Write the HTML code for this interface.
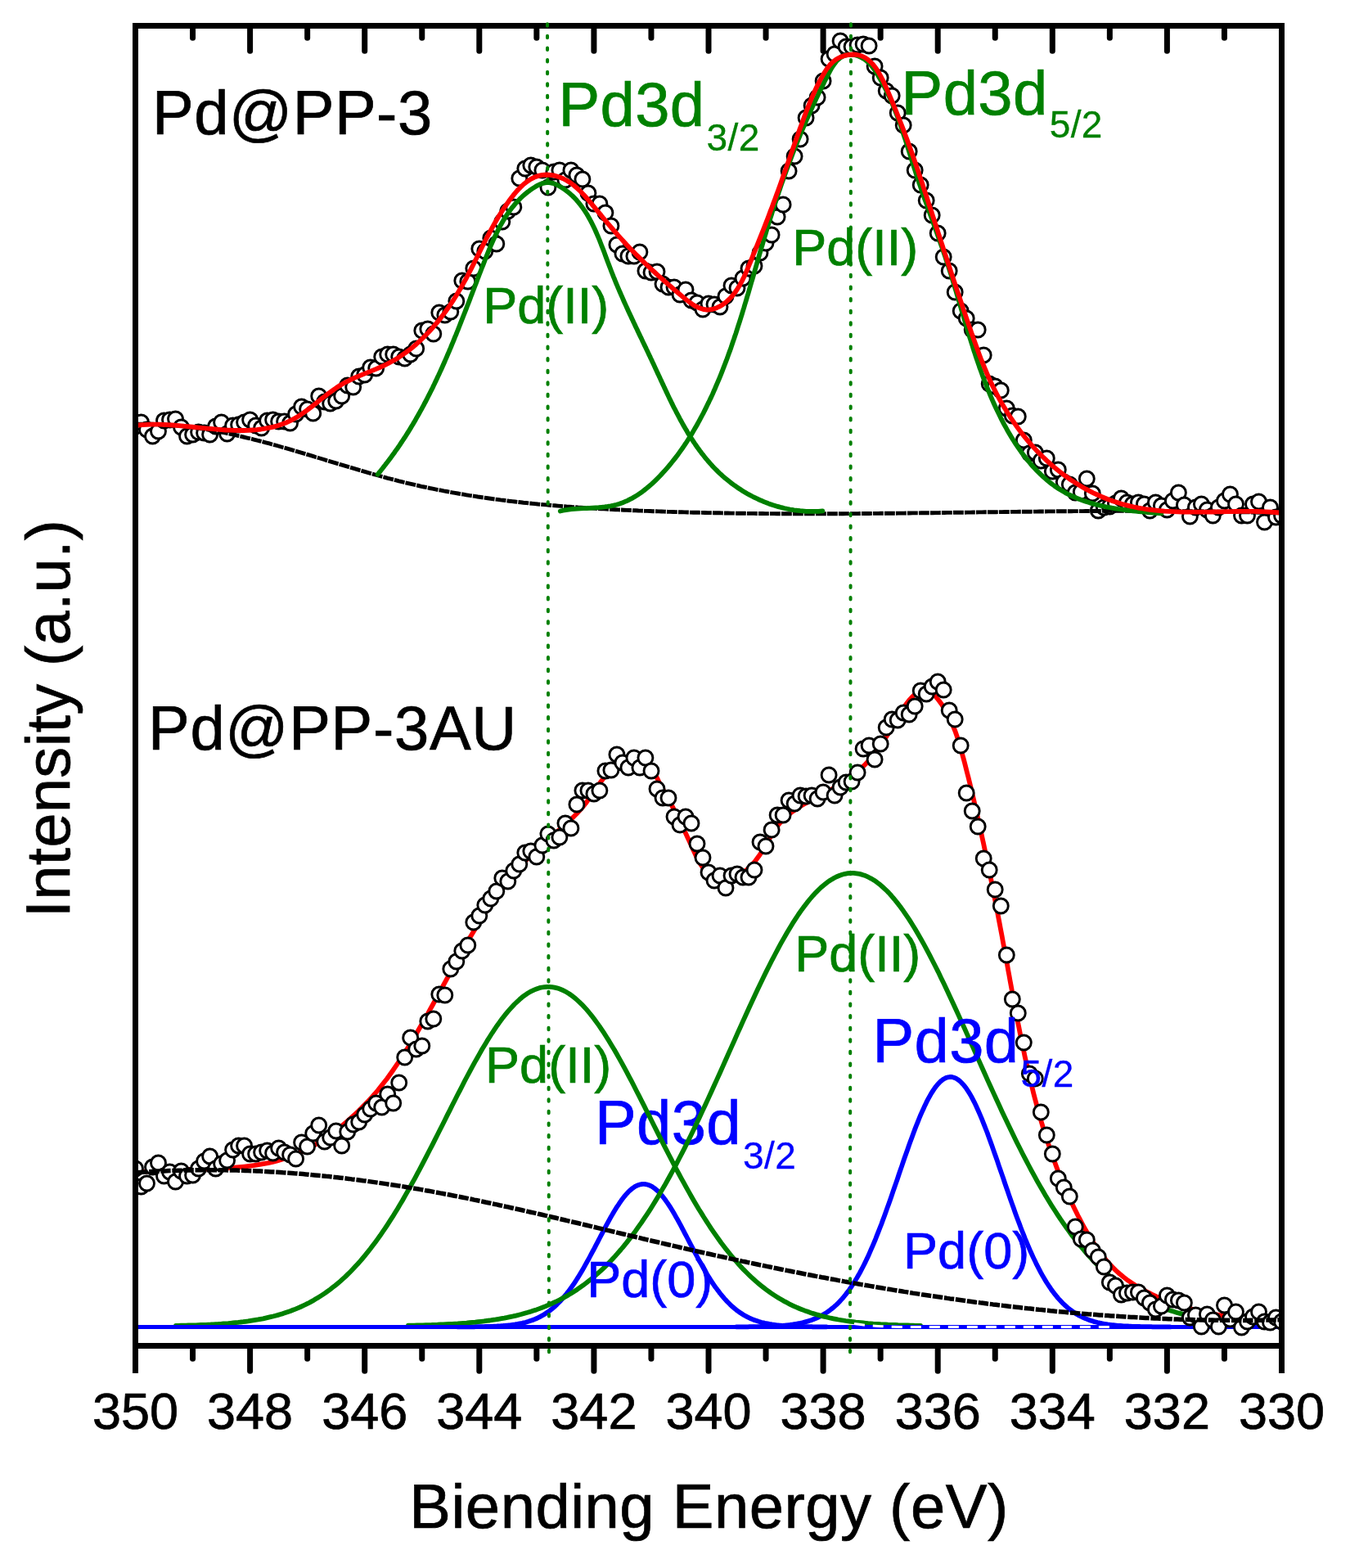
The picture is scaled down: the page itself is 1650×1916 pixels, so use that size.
<!DOCTYPE html>
<html><head><meta charset="utf-8"><style>html,body{margin:0;padding:0;background:#fff;}svg{display:block;}</style></head>
<body><svg xmlns="http://www.w3.org/2000/svg" width="1650" height="1916" viewBox="0 0 1650 1916"><rect width="1650" height="1916" fill="#fff"/><defs><clipPath id="pa"><rect x="165.5" y="31.5" width="1401" height="1613"/></clipPath></defs><g clip-path="url(#pa)"><text x="186.1" y="163.8" font-family="'Liberation Sans', Arial, sans-serif" font-size="76" fill="#000" letter-spacing="0.5" stroke-width="0.7" stroke="#000">Pd@PP-3</text><text x="682.4" y="154.2" font-family="'Liberation Sans', Arial, sans-serif" font-size="76" fill="#008000" letter-spacing="0.4" stroke-width="0.7" stroke="#008000">Pd3d<tspan font-size="46" dx="2" dy="29.5" stroke-width="0.3">3/2</tspan></text><text x="1101.6" y="139.8" font-family="'Liberation Sans', Arial, sans-serif" font-size="76" fill="#008000" letter-spacing="0.4" stroke-width="0.7" stroke="#008000">Pd3d<tspan font-size="46" dx="2" dy="28.4" stroke-width="0.3">5/2</tspan></text><text x="590.2" y="394.9" font-family="'Liberation Sans', Arial, sans-serif" font-size="63" fill="#008000" stroke-width="0.7" stroke="#008000">Pd(II)</text><text x="968.2" y="323.8" font-family="'Liberation Sans', Arial, sans-serif" font-size="63" fill="#008000" stroke-width="0.7" stroke="#008000">Pd(II)</text><g fill="#fff" stroke="#000" stroke-width="2.9"><circle cx="165.5" cy="521.0" r="9.0"/><circle cx="172.5" cy="516.0" r="9.0"/><circle cx="179.5" cy="525.0" r="9.0"/><circle cx="186.5" cy="533.0" r="9.0"/><circle cx="193.5" cy="527.0" r="9.0"/><circle cx="200.5" cy="514.0" r="9.0"/><circle cx="207.5" cy="513.0" r="9.0"/><circle cx="214.5" cy="512.0" r="9.0"/><circle cx="221.5" cy="522.0" r="9.0"/><circle cx="228.5" cy="533.0" r="9.0"/><circle cx="235.6" cy="531.0" r="9.0"/><circle cx="242.6" cy="528.0" r="9.0"/><circle cx="249.6" cy="529.0" r="9.0"/><circle cx="256.6" cy="531.0" r="9.0"/><circle cx="263.6" cy="521.0" r="9.0"/><circle cx="270.6" cy="516.0" r="9.0"/><circle cx="277.6" cy="530.0" r="9.0"/><circle cx="284.6" cy="520.0" r="9.0"/><circle cx="291.6" cy="519.0" r="9.0"/><circle cx="298.6" cy="516.0" r="9.0"/><circle cx="305.6" cy="513.0" r="9.0"/><circle cx="312.6" cy="520.0" r="9.0"/><circle cx="319.6" cy="523.0" r="9.0"/><circle cx="326.6" cy="514.0" r="9.0"/><circle cx="333.6" cy="513.0" r="9.0"/><circle cx="340.6" cy="515.0" r="9.0"/><circle cx="347.6" cy="515.0" r="9.0"/><circle cx="354.6" cy="517.0" r="9.0"/><circle cx="361.6" cy="506.0" r="9.0"/><circle cx="368.6" cy="497.0" r="9.0"/><circle cx="375.6" cy="500.0" r="9.0"/><circle cx="382.7" cy="505.0" r="9.0"/><circle cx="389.7" cy="484.0" r="9.0"/><circle cx="396.7" cy="491.0" r="9.0"/><circle cx="403.7" cy="493.0" r="9.0"/><circle cx="410.7" cy="490.0" r="9.0"/><circle cx="417.7" cy="484.0" r="9.0"/><circle cx="424.7" cy="471.0" r="9.0"/><circle cx="431.7" cy="473.0" r="9.0"/><circle cx="438.7" cy="460.0" r="9.0"/><circle cx="445.7" cy="458.0" r="9.0"/><circle cx="452.7" cy="449.0" r="9.0"/><circle cx="459.7" cy="450.0" r="9.0"/><circle cx="466.7" cy="436.0" r="9.0"/><circle cx="473.7" cy="433.0" r="9.0"/><circle cx="480.7" cy="433.0" r="9.0"/><circle cx="487.7" cy="436.0" r="9.0"/><circle cx="494.7" cy="438.0" r="9.0"/><circle cx="501.7" cy="433.0" r="9.0"/><circle cx="508.7" cy="426.0" r="9.0"/><circle cx="515.8" cy="404.0" r="9.0"/><circle cx="522.8" cy="402.0" r="9.0"/><circle cx="529.8" cy="408.0" r="9.0"/><circle cx="536.8" cy="382.0" r="9.0"/><circle cx="543.8" cy="385.0" r="9.0"/><circle cx="550.8" cy="381.0" r="9.0"/><circle cx="557.8" cy="368.0" r="9.0"/><circle cx="564.8" cy="343.0" r="9.0"/><circle cx="571.8" cy="344.0" r="9.0"/><circle cx="578.8" cy="328.0" r="9.0"/><circle cx="585.8" cy="304.0" r="9.0"/><circle cx="592.8" cy="307.0" r="9.0"/><circle cx="599.8" cy="291.0" r="9.0"/><circle cx="606.8" cy="298.0" r="9.0"/><circle cx="613.8" cy="271.0" r="9.0"/><circle cx="620.8" cy="258.0" r="9.0"/><circle cx="627.8" cy="253.0" r="9.0"/><circle cx="634.8" cy="218.0" r="9.0"/><circle cx="641.8" cy="206.0" r="9.0"/><circle cx="648.8" cy="202.0" r="9.0"/><circle cx="655.8" cy="204.0" r="9.0"/><circle cx="662.9" cy="208.0" r="9.0"/><circle cx="669.9" cy="229.0" r="9.0"/><circle cx="676.9" cy="210.0" r="9.0"/><circle cx="683.9" cy="208.0" r="9.0"/><circle cx="690.9" cy="220.0" r="9.0"/><circle cx="697.9" cy="208.0" r="9.0"/><circle cx="704.9" cy="214.0" r="9.0"/><circle cx="711.9" cy="219.0" r="9.0"/><circle cx="718.9" cy="236.0" r="9.0"/><circle cx="725.9" cy="249.0" r="9.0"/><circle cx="732.9" cy="249.0" r="9.0"/><circle cx="739.9" cy="260.0" r="9.0"/><circle cx="746.9" cy="276.0" r="9.0"/><circle cx="753.9" cy="299.0" r="9.0"/><circle cx="760.9" cy="310.0" r="9.0"/><circle cx="767.9" cy="313.0" r="9.0"/><circle cx="774.9" cy="313.0" r="9.0"/><circle cx="781.9" cy="308.0" r="9.0"/><circle cx="788.9" cy="331.0" r="9.0"/><circle cx="796.0" cy="333.0" r="9.0"/><circle cx="803.0" cy="332.0" r="9.0"/><circle cx="810.0" cy="347.0" r="9.0"/><circle cx="817.0" cy="351.0" r="9.0"/><circle cx="824.0" cy="351.0" r="9.0"/><circle cx="831.0" cy="360.0" r="9.0"/><circle cx="838.0" cy="354.0" r="9.0"/><circle cx="845.0" cy="367.0" r="9.0"/><circle cx="852.0" cy="370.0" r="9.0"/><circle cx="859.0" cy="378.0" r="9.0"/><circle cx="866.0" cy="371.0" r="9.0"/><circle cx="873.0" cy="372.0" r="9.0"/><circle cx="880.0" cy="375.0" r="9.0"/><circle cx="887.0" cy="362.0" r="9.0"/><circle cx="894.0" cy="349.0" r="9.0"/><circle cx="901.0" cy="352.0" r="9.0"/><circle cx="908.0" cy="340.0" r="9.0"/><circle cx="915.0" cy="328.0" r="9.0"/><circle cx="922.0" cy="325.0" r="9.0"/><circle cx="929.0" cy="309.0" r="9.0"/><circle cx="936.0" cy="297.0" r="9.0"/><circle cx="943.1" cy="287.0" r="9.0"/><circle cx="950.1" cy="265.0" r="9.0"/><circle cx="957.1" cy="250.0" r="9.0"/><circle cx="964.1" cy="209.0" r="9.0"/><circle cx="971.1" cy="191.0" r="9.0"/><circle cx="978.1" cy="170.0" r="9.0"/><circle cx="985.1" cy="144.0" r="9.0"/><circle cx="992.1" cy="129.0" r="9.0"/><circle cx="999.1" cy="119.0" r="9.0"/><circle cx="1006.1" cy="99.0" r="9.0"/><circle cx="1013.1" cy="72.0" r="9.0"/><circle cx="1020.1" cy="66.0" r="9.0"/><circle cx="1027.1" cy="50.0" r="9.0"/><circle cx="1034.1" cy="57.0" r="9.0"/><circle cx="1041.1" cy="57.0" r="9.0"/><circle cx="1048.1" cy="55.0" r="9.0"/><circle cx="1055.1" cy="54.0" r="9.0"/><circle cx="1062.1" cy="56.0" r="9.0"/><circle cx="1069.1" cy="81.0" r="9.0"/><circle cx="1076.2" cy="95.0" r="9.0"/><circle cx="1083.2" cy="111.0" r="9.0"/><circle cx="1090.2" cy="117.0" r="9.0"/><circle cx="1097.2" cy="138.0" r="9.0"/><circle cx="1104.2" cy="153.0" r="9.0"/><circle cx="1111.2" cy="185.0" r="9.0"/><circle cx="1118.2" cy="208.0" r="9.0"/><circle cx="1125.2" cy="226.0" r="9.0"/><circle cx="1132.2" cy="245.0" r="9.0"/><circle cx="1139.2" cy="263.0" r="9.0"/><circle cx="1146.2" cy="285.0" r="9.0"/><circle cx="1153.2" cy="314.0" r="9.0"/><circle cx="1160.2" cy="331.0" r="9.0"/><circle cx="1167.2" cy="357.0" r="9.0"/><circle cx="1174.2" cy="380.0" r="9.0"/><circle cx="1181.2" cy="389.0" r="9.0"/><circle cx="1188.2" cy="403.0" r="9.0"/><circle cx="1195.2" cy="403.0" r="9.0"/><circle cx="1202.2" cy="434.0" r="9.0"/><circle cx="1209.2" cy="469.0" r="9.0"/><circle cx="1216.2" cy="472.0" r="9.0"/><circle cx="1223.3" cy="477.0" r="9.0"/><circle cx="1230.3" cy="499.0" r="9.0"/><circle cx="1237.3" cy="508.0" r="9.0"/><circle cx="1244.3" cy="509.0" r="9.0"/><circle cx="1251.3" cy="538.0" r="9.0"/><circle cx="1258.3" cy="554.0" r="9.0"/><circle cx="1265.3" cy="553.0" r="9.0"/><circle cx="1272.3" cy="563.0" r="9.0"/><circle cx="1279.3" cy="560.0" r="9.0"/><circle cx="1286.3" cy="576.0" r="9.0"/><circle cx="1293.3" cy="574.0" r="9.0"/><circle cx="1300.3" cy="589.0" r="9.0"/><circle cx="1307.3" cy="592.0" r="9.0"/><circle cx="1314.3" cy="602.0" r="9.0"/><circle cx="1321.3" cy="601.0" r="9.0"/><circle cx="1328.3" cy="585.0" r="9.0"/><circle cx="1335.3" cy="603.0" r="9.0"/><circle cx="1342.3" cy="624.0" r="9.0"/><circle cx="1349.3" cy="620.0" r="9.0"/><circle cx="1356.3" cy="619.0" r="9.0"/><circle cx="1363.4" cy="615.0" r="9.0"/><circle cx="1370.4" cy="609.0" r="9.0"/><circle cx="1377.4" cy="614.0" r="9.0"/><circle cx="1384.4" cy="616.0" r="9.0"/><circle cx="1391.4" cy="614.0" r="9.0"/><circle cx="1398.4" cy="616.0" r="9.0"/><circle cx="1405.4" cy="624.0" r="9.0"/><circle cx="1412.4" cy="614.0" r="9.0"/><circle cx="1419.4" cy="618.0" r="9.0"/><circle cx="1426.4" cy="623.0" r="9.0"/><circle cx="1433.4" cy="612.0" r="9.0"/><circle cx="1440.4" cy="602.0" r="9.0"/><circle cx="1447.4" cy="617.0" r="9.0"/><circle cx="1454.4" cy="631.0" r="9.0"/><circle cx="1461.4" cy="620.0" r="9.0"/><circle cx="1468.4" cy="616.0" r="9.0"/><circle cx="1475.4" cy="623.0" r="9.0"/><circle cx="1482.4" cy="630.0" r="9.0"/><circle cx="1489.4" cy="620.0" r="9.0"/><circle cx="1496.5" cy="612.0" r="9.0"/><circle cx="1503.5" cy="604.0" r="9.0"/><circle cx="1510.5" cy="616.0" r="9.0"/><circle cx="1517.5" cy="630.0" r="9.0"/><circle cx="1524.5" cy="630.0" r="9.0"/><circle cx="1531.5" cy="616.0" r="9.0"/><circle cx="1538.5" cy="613.0" r="9.0"/><circle cx="1545.5" cy="638.0" r="9.0"/><circle cx="1552.5" cy="620.0" r="9.0"/><circle cx="1559.5" cy="632.0" r="9.0"/><circle cx="1566.5" cy="630.0" r="9.0"/></g><path d="M168.6 518.3 L172.2 518.2 L175.8 518.2 L179.3 518.2 L182.9 518.2 L186.4 518.3 L190.0 518.4 L193.5 518.5 L197.1 518.7 L200.6 518.9 L204.1 519.1 L207.6 519.4 L211.1 519.6 L214.6 519.9 L218.1 520.3 L221.6 520.6 L225.1 521.0 L228.6 521.4 L232.1 521.8 L235.6 522.3 L239.1 522.8 L242.5 523.3 L246.0 523.8 L249.5 524.3 L252.9 524.9 L256.4 525.5 L259.8 526.1 L263.3 526.7 L266.7 527.3 L270.2 528.0 L273.6 528.7 L277.0 529.4 L280.5 530.1 L283.9 530.8 L287.3 531.6 L290.7 532.4 L294.2 533.2 L297.6 534.0 L301.0 534.8 L304.4 535.6 L307.8 536.4 L311.2 537.3 L314.6 538.2 L318.0 539.0 L321.4 539.9 L324.8 540.8 L328.2 541.7 L331.6 542.7 L335.0 543.6 L338.4 544.5 L341.8 545.5 L345.2 546.5 L348.6 547.4 L352.0 548.4 L355.4 549.4 L358.8 550.4 L362.1 551.4 L365.5 552.4 L368.9 553.4 L372.3 554.4 L375.7 555.4 L379.1 556.4 L382.4 557.4 L385.8 558.5 L389.2 559.5 L392.6 560.5 L396.0 561.5 L399.3 562.6 L402.7 563.6 L406.1 564.6 L409.5 565.6 L412.9 566.7 L416.2 567.7 L419.6 568.7 L423.0 569.7 L426.4 570.7 L429.8 571.7 L433.2 572.7 L436.5 573.7 L439.9 574.7 L443.3 575.7 L446.7 576.7 L450.1 577.7 L453.5 578.6 L456.9 579.6 L460.3 580.5 L463.7 581.5 L467.1 582.4 L470.5 583.3 L473.9 584.3 L477.3 585.2 L480.7 586.0 L484.1 586.9 L487.5 587.8 L490.9 588.6 L494.3 589.5 L497.8 590.3 L501.2 591.1 L504.6 591.9 L508.0 592.7 L511.5 593.5 L514.9 594.3 L518.3 595.0 L521.8 595.7 L525.2 596.5 L528.6 597.2 L532.1 597.9 L535.5 598.6 L539.0 599.2 L542.4 599.9 L545.9 600.5 L549.3 601.2 L552.8 601.8 L556.2 602.4 L559.7 603.0 L563.2 603.6 L566.6 604.2 L570.1 604.8 L573.6 605.4 L577.0 605.9 L580.5 606.4 L584.0 607.0 L587.5 607.5 L590.9 608.0 L594.4 608.5 L597.9 609.0 L601.4 609.5 L604.8 610.0 L608.3 610.4 L611.8 610.9 L615.3 611.3 L618.8 611.7 L622.3 612.2 L625.8 612.6 L629.3 613.0 L632.8 613.4 L636.3 613.8 L639.8 614.2 L643.3 614.5 L646.8 614.9 L650.3 615.3 L653.8 615.6 L657.3 616.0 L660.8 616.3 L664.3 616.6 L667.8 616.9 L671.3 617.2 L674.8 617.6 L678.3 617.8 L681.8 618.1 L685.3 618.4 L688.8 618.7 L692.4 619.0 L695.9 619.2 L699.4 619.5 L702.9 619.7 L706.4 620.0 L709.9 620.2 L713.5 620.5 L717.0 620.7 L720.5 620.9 L724.0 621.1 L727.5 621.3 L731.1 621.6 L734.6 621.8 L738.1 621.9 L741.6 622.1 L745.1 622.3 L748.7 622.5 L752.2 622.7 L755.7 622.9 L759.2 623.0 L762.8 623.2 L766.3 623.4 L769.8 623.5 L773.3 623.7 L776.9 623.8 L780.4 624.0 L783.9 624.1 L787.4 624.3 L791.0 624.4 L794.5 624.5 L798.0 624.7 L801.5 624.8 L805.1 624.9 L808.6 625.0 L812.1 625.1 L815.6 625.3 L819.2 625.4 L822.7 625.5 L826.2 625.6 L829.7 625.7 L833.3 625.8 L836.8 625.9 L840.3 626.0 L843.8 626.1 L847.4 626.2 L850.9 626.2 L854.4 626.3 L857.9 626.4 L861.5 626.5 L865.0 626.6 L868.5 626.6 L872.1 626.7 L875.6 626.8 L879.1 626.8 L882.6 626.9 L886.2 627.0 L889.7 627.0 L893.2 627.1 L896.7 627.1 L900.3 627.2 L903.8 627.2 L907.3 627.3 L910.8 627.3 L914.4 627.4 L917.9 627.4 L921.4 627.4 L924.9 627.5 L928.5 627.5 L932.0 627.5 L935.5 627.6 L939.1 627.6 L942.6 627.6 L946.1 627.6 L949.6 627.7 L953.2 627.7 L956.7 627.7 L960.2 627.7 L963.7 627.7 L967.3 627.7 L970.8 627.7 L974.3 627.8 L977.8 627.8 L981.4 627.8 L984.9 627.8 L988.4 627.8 L992.0 627.8 L995.5 627.8 L999.0 627.8 L1002.5 627.8 L1006.1 627.7 L1009.6 627.7 L1013.1 627.7 L1016.6 627.7 L1020.2 627.7 L1023.7 627.7 L1027.2 627.7 L1030.7 627.7 L1034.3 627.6 L1037.8 627.6 L1041.3 627.6 L1044.9 627.6 L1048.4 627.6 L1051.9 627.5 L1055.4 627.5 L1059.0 627.5 L1062.5 627.5 L1066.0 627.4 L1069.5 627.4 L1073.1 627.4 L1076.6 627.3 L1080.1 627.3 L1083.6 627.3 L1087.2 627.2 L1090.7 627.2 L1094.2 627.2 L1097.8 627.1 L1101.3 627.1 L1104.8 627.1 L1108.3 627.0 L1111.9 627.0 L1115.4 626.9 L1118.9 626.9 L1122.4 626.9 L1126.0 626.8 L1129.5 626.8 L1133.0 626.7 L1136.5 626.7 L1140.1 626.7 L1143.6 626.6 L1147.1 626.6 L1150.7 626.5 L1154.2 626.5 L1157.7 626.4 L1161.2 626.4 L1164.8 626.3 L1168.3 626.3 L1171.8 626.3 L1175.3 626.2 L1178.9 626.2 L1182.4 626.1 L1185.9 626.1 L1189.4 626.0 L1193.0 626.0 L1196.5 625.9 L1200.0 625.9 L1203.6 625.8 L1207.1 625.8 L1210.6 625.8 L1214.1 625.7 L1217.7 625.7 L1221.2 625.6 L1224.7 625.6 L1228.2 625.5 L1231.8 625.5 L1235.3 625.4 L1238.8 625.4 L1242.3 625.4 L1245.9 625.3 L1249.4 625.3 L1252.9 625.2 L1256.4 625.2 L1260.0 625.2 L1263.5 625.1 L1267.0 625.1 L1270.5 625.0 L1274.1 625.0 L1277.6 625.0 L1281.1 624.9 L1284.6 624.9 L1288.2 624.9 L1291.7 624.8 L1295.2 624.8 L1298.7 624.8 L1302.3 624.7 L1305.8 624.7 L1309.3 624.7 L1312.8 624.6 L1316.4 624.6 L1319.9 624.6 L1323.4 624.6 L1326.9 624.5 L1330.5 624.5 L1334.0 624.5 L1337.5 624.5 L1341.0 624.5 L1344.6 624.4 L1348.1 624.4 L1351.6 624.4 L1355.1 624.4 L1358.7 624.4 L1362.2 624.4 L1365.7 624.4 L1369.2 624.3 L1372.8 624.3 L1376.3 624.3 L1379.8 624.3 L1383.3 624.3 L1386.9 624.3 L1390.4 624.3 L1393.9 624.3 L1397.4 624.3 L1401.0 624.3 L1404.5 624.3 L1408.0 624.4 L1411.5 624.4 L1415.1 624.4 L1418.6 624.4 L1422.1 624.4 L1425.6 624.4 L1429.1 624.5 L1432.7 624.5 L1436.2 624.5 L1439.7 624.5 L1443.2 624.6 L1446.8 624.6 L1450.3 624.6 L1453.8 624.7 L1457.3 624.7 L1460.8 624.7 L1464.4 624.8 L1467.9 624.8 L1471.4 624.9 L1474.9 624.9 L1478.5 625.0 L1482.0 625.0 L1485.5 625.1 L1489.0 625.1 L1492.5 625.2 L1496.1 625.2 L1499.6 625.3 L1503.1 625.4 L1506.6 625.4 L1510.2 625.5 L1513.7 625.6 L1517.2 625.7 L1520.7 625.8 L1524.2 625.8 L1527.8 625.9 L1531.3 626.0 L1534.8 626.1 L1538.3 626.2 L1541.8 626.3 L1545.4 626.4 L1548.9 626.5 L1552.4 626.6 L1555.9 626.7 L1559.4 626.8 L1563.0 626.9" fill="none" stroke="#000" stroke-width="4.9" stroke-linejoin="round"  stroke-dasharray="12.9 1.1" stroke-linecap="butt"/><path d="M461.6 579.7 L463.2 577.7 L464.8 575.8 L466.4 573.8 L468.0 571.8 L469.5 569.8 L471.1 567.8 L472.6 565.8 L474.2 563.8 L475.7 561.8 L477.2 559.8 L478.6 557.8 L480.1 555.8 L481.6 553.8 L483.0 551.7 L484.4 549.7 L485.9 547.7 L487.3 545.6 L488.7 543.6 L490.0 541.5 L491.4 539.5 L492.8 537.4 L494.1 535.4 L495.5 533.3 L496.8 531.2 L498.1 529.1 L499.4 527.1 L500.7 525.0 L502.0 522.9 L503.2 520.8 L504.5 518.7 L505.7 516.6 L507.0 514.5 L508.2 512.4 L509.4 510.2 L510.6 508.1 L511.8 506.0 L513.0 503.9 L514.2 501.7 L515.4 499.6 L516.5 497.5 L517.7 495.3 L518.8 493.2 L520.0 491.0 L521.1 488.9 L522.2 486.7 L523.3 484.5 L524.4 482.4 L525.5 480.2 L526.6 478.0 L527.7 475.9 L528.8 473.7 L529.8 471.5 L530.9 469.3 L531.9 467.1 L533.0 464.9 L534.0 462.7 L535.0 460.5 L536.1 458.3 L537.1 456.1 L538.1 453.9 L539.1 451.7 L540.1 449.5 L541.1 447.3 L542.1 445.0 L543.1 442.8 L544.0 440.6 L545.0 438.4 L546.0 436.1 L546.9 433.9 L547.9 431.6 L548.9 429.4 L549.8 427.1 L550.8 424.9 L551.7 422.6 L552.6 420.4 L553.6 418.1 L554.5 415.9 L555.4 413.6 L556.3 411.3 L557.3 409.1 L558.2 406.8 L559.1 404.5 L560.0 402.3 L560.9 400.0 L561.8 397.7 L562.7 395.4 L563.6 393.1 L564.5 390.8 L565.4 388.6 L566.3 386.3 L567.2 384.0 L568.1 381.7 L569.0 379.4 L569.9 377.1 L570.8 374.8 L571.7 372.5 L572.6 370.2 L573.5 367.9 L574.4 365.5 L575.2 363.2 L576.1 360.9 L577.0 358.6 L577.9 356.3 L578.8 354.0 L579.7 351.6 L580.6 349.3 L581.5 347.0 L582.4 344.7 L583.2 342.3 L584.1 340.0 L585.0 337.7 L585.9 335.3 L586.8 333.0 L587.7 330.7 L588.6 328.3 L589.5 326.0 L590.5 323.7 L591.4 321.3 L592.3 319.0 L593.2 316.6 L594.1 314.3 L595.0 312.0 L596.0 309.6 L596.9 307.3 L597.9 305.0 L598.8 302.7 L599.8 300.4 L600.8 298.1 L601.8 295.8 L602.8 293.5 L603.9 291.2 L604.9 289.0 L606.0 286.7 L607.1 284.5 L608.2 282.3 L609.3 280.1 L610.4 277.9 L611.6 275.7 L612.8 273.6 L614.0 271.5 L615.2 269.4 L616.5 267.3 L617.8 265.2 L619.1 263.2 L620.5 261.2 L621.8 259.2 L623.2 257.3 L624.7 255.3 L626.2 253.4 L627.7 251.6 L629.2 249.7 L630.8 247.9 L632.4 246.2 L634.1 244.4 L635.7 242.7 L637.5 241.0 L639.2 239.4 L641.1 237.8 L642.9 236.3 L644.8 234.7 L646.8 233.3 L648.7 231.8 L650.8 230.4 L652.9 229.1 L655.0 227.8 L657.1 226.6 L659.3 225.5 L661.6 224.6 L663.8 223.8 L666.1 223.3 L668.4 223.0 L670.7 223.0 L673.0 223.3 L675.2 223.8 L677.5 224.5 L679.7 225.4 L682.0 226.5 L684.1 227.7 L686.3 229.0 L688.3 230.3 L690.3 231.7 L692.3 233.2 L694.2 234.6 L696.1 236.2 L697.9 237.8 L699.7 239.4 L701.4 241.1 L703.0 242.8 L704.7 244.6 L706.2 246.4 L707.8 248.2 L709.3 250.1 L710.7 252.0 L712.1 253.9 L713.5 255.9 L714.9 257.9 L716.2 260.0 L717.5 262.0 L718.7 264.1 L719.9 266.2 L721.1 268.4 L722.3 270.6 L723.4 272.8 L724.5 275.0 L725.6 277.2 L726.7 279.5 L727.7 281.7 L728.7 284.0 L729.7 286.3 L730.7 288.6 L731.7 291.0 L732.7 293.3 L733.6 295.7 L734.5 298.0 L735.4 300.4 L736.4 302.8 L737.3 305.1 L738.2 307.5 L739.1 309.9 L739.9 312.3 L740.8 314.6 L741.7 317.0 L742.6 319.4 L743.5 321.8 L744.4 324.1 L745.3 326.5 L746.2 328.8 L747.1 331.2 L748.0 333.5 L748.9 335.8 L749.8 338.1 L750.8 340.4 L751.7 342.7 L752.6 345.0 L753.6 347.3 L754.5 349.5 L755.5 351.8 L756.5 354.1 L757.4 356.3 L758.4 358.5 L759.4 360.8 L760.4 363.0 L761.3 365.2 L762.3 367.5 L763.3 369.7 L764.3 371.9 L765.3 374.1 L766.3 376.3 L767.3 378.5 L768.3 380.7 L769.3 382.9 L770.4 385.1 L771.4 387.3 L772.4 389.5 L773.4 391.6 L774.4 393.8 L775.5 396.0 L776.5 398.2 L777.5 400.4 L778.6 402.5 L779.6 404.7 L780.6 406.9 L781.7 409.1 L782.7 411.2 L783.8 413.4 L784.8 415.6 L785.8 417.8 L786.9 420.0 L787.9 422.2 L789.0 424.3 L790.0 426.5 L791.1 428.7 L792.1 430.9 L793.1 433.1 L794.2 435.3 L795.2 437.5 L796.3 439.7 L797.3 442.0 L798.4 444.2 L799.4 446.4 L800.4 448.6 L801.5 450.9 L802.5 453.1 L803.5 455.4 L804.6 457.6 L805.6 459.8 L806.7 462.1 L807.7 464.4 L808.8 466.6 L809.8 468.9 L810.9 471.1 L811.9 473.4 L813.0 475.6 L814.0 477.9 L815.1 480.1 L816.2 482.4 L817.2 484.6 L818.3 486.9 L819.4 489.1 L820.5 491.4 L821.6 493.6 L822.7 495.9 L823.8 498.1 L825.0 500.3 L826.1 502.5 L827.2 504.7 L828.4 506.9 L829.6 509.1 L830.7 511.3 L831.9 513.5 L833.1 515.7 L834.3 517.9 L835.5 520.0 L836.8 522.2 L838.0 524.3 L839.3 526.4 L840.5 528.6 L841.8 530.7 L843.1 532.8 L844.4 534.8 L845.8 536.9 L847.1 539.0 L848.5 541.0 L849.8 543.0 L851.2 545.0 L852.6 547.0 L854.1 549.0 L855.5 551.0 L857.0 552.9 L858.5 554.9 L860.0 556.8 L861.5 558.7 L863.0 560.6 L864.6 562.4 L866.2 564.3 L867.8 566.1 L869.4 567.9 L871.0 569.7 L872.7 571.5 L874.4 573.2 L876.1 574.9 L877.8 576.6 L879.6 578.3 L881.4 579.9 L883.2 581.6 L885.0 583.2 L886.9 584.8 L888.8 586.3 L890.7 587.8 L892.6 589.4 L894.5 590.8 L896.5 592.3 L898.5 593.7 L900.5 595.1 L902.5 596.5 L904.5 597.8 L906.6 599.2 L908.7 600.5 L910.8 601.7 L912.9 603.0 L915.0 604.2 L917.2 605.3 L919.4 606.5 L921.6 607.6 L923.8 608.7 L926.0 609.7 L928.2 610.8 L930.5 611.7 L932.7 612.7 L935.0 613.6 L937.3 614.5 L939.6 615.4 L941.9 616.2 L944.2 617.0 L946.6 617.7 L948.9 618.4 L951.3 619.1 L953.7 619.8 L956.0 620.4 L958.4 621.0 L960.8 621.5 L963.2 622.0 L965.7 622.5 L968.1 622.9 L970.5 623.3 L973.0 623.6 L975.4 623.9 L977.9 624.2 L980.4 624.4 L982.8 624.6 L985.3 624.8 L987.8 624.9 L990.3 624.9 L992.8 624.9 L995.3 624.9 L997.8 624.9 L1000.3 624.8 L1002.8 624.6 L1005.3 624.4" fill="none" stroke="#008000" stroke-width="5.8" stroke-linejoin="round" stroke-linecap="round" /><path d="M684.8 624.5 L688.2 623.7 L691.6 623.1 L695.1 622.6 L698.6 622.2 L702.2 621.8 L705.8 621.6 L709.5 621.3 L713.2 621.1 L716.9 621.0 L720.6 620.8 L724.3 620.6 L728.1 620.4 L731.8 620.2 L735.4 619.8 L739.1 619.4 L742.7 618.9 L746.3 618.3 L749.9 617.6 L753.4 616.7 L756.8 615.7 L760.2 614.6 L763.5 613.2 L766.7 611.8 L769.9 610.2 L773.1 608.6 L776.1 606.8 L779.2 604.9 L782.1 602.9 L785.1 600.8 L787.9 598.6 L790.8 596.3 L793.5 594.0 L796.3 591.6 L799.0 589.1 L801.6 586.6 L804.2 584.0 L806.7 581.4 L809.2 578.7 L811.7 576.1 L814.1 573.4 L816.5 570.6 L818.8 567.8 L821.1 565.0 L823.4 562.2 L825.6 559.4 L827.8 556.5 L829.9 553.6 L832.0 550.6 L834.1 547.7 L836.2 544.7 L838.2 541.7 L840.1 538.7 L842.1 535.6 L844.0 532.6 L845.9 529.5 L847.7 526.4 L849.5 523.3 L851.3 520.2 L853.1 517.0 L854.8 513.8 L856.5 510.7 L858.2 507.5 L859.9 504.3 L861.5 501.1 L863.1 497.9 L864.7 494.6 L866.3 491.4 L867.8 488.1 L869.4 484.9 L870.9 481.6 L872.3 478.3 L873.8 475.0 L875.2 471.7 L876.6 468.4 L878.0 465.1 L879.4 461.8 L880.8 458.4 L882.1 455.1 L883.4 451.7 L884.7 448.4 L886.0 445.0 L887.3 441.6 L888.6 438.3 L889.8 434.9 L891.0 431.5 L892.3 428.1 L893.5 424.7 L894.6 421.3 L895.8 417.8 L897.0 414.4 L898.1 411.0 L899.3 407.6 L900.4 404.1 L901.5 400.7 L902.6 397.2 L903.7 393.8 L904.8 390.3 L905.9 386.9 L907.0 383.4 L908.0 380.0 L909.1 376.5 L910.1 373.0 L911.2 369.5 L912.2 366.1 L913.2 362.6 L914.3 359.1 L915.3 355.6 L916.3 352.2 L917.3 348.7 L918.3 345.2 L919.4 341.7 L920.4 338.2 L921.4 334.7 L922.4 331.3 L923.4 327.8 L924.4 324.3 L925.4 320.8 L926.4 317.3 L927.4 313.9 L928.4 310.4 L929.4 306.9 L930.4 303.4 L931.5 300.0 L932.5 296.5 L933.5 293.0 L934.5 289.6 L935.6 286.1 L936.6 282.6 L937.6 279.2 L938.7 275.7 L939.7 272.3 L940.8 268.8 L941.9 265.4 L943.0 262.0 L944.1 258.5 L945.1 255.1 L946.3 251.7 L947.4 248.3 L948.5 244.8 L949.6 241.4 L950.8 238.0 L951.9 234.6 L953.1 231.2 L954.2 227.8 L955.4 224.4 L956.6 221.0 L957.8 217.7 L959.0 214.3 L960.2 210.9 L961.4 207.5 L962.7 204.1 L963.9 200.8 L965.2 197.4 L966.5 194.0 L967.7 190.7 L969.0 187.3 L970.3 184.0 L971.7 180.6 L973.0 177.2 L974.3 173.9 L975.7 170.5 L977.1 167.2 L978.4 163.8 L979.8 160.5 L981.2 157.2 L982.7 153.8 L984.1 150.5 L985.5 147.1 L987.0 143.8 L988.5 140.5 L990.0 137.1 L991.5 133.8 L993.0 130.5 L994.5 127.1 L996.1 123.8 L997.6 120.5 L999.2 117.2 L1000.8 113.8 L1002.4 110.5 L1004.0 107.2 L1005.7 103.9 L1007.3 100.5 L1009.0 97.2 L1010.7 93.9 L1012.4 90.6 L1014.1 87.3 L1015.9 84.1 L1017.8 81.0 L1019.8 78.1 L1021.9 75.4 L1024.2 72.9 L1026.6 70.9 L1029.3 69.2 L1032.2 67.9 L1035.4 67.1 L1038.7 66.7 L1042.2 66.9 L1045.7 67.5 L1049.1 68.6 L1052.5 70.1 L1055.8 71.9 L1058.8 74.0 L1061.6 76.5 L1064.2 79.1 L1066.5 82.0 L1068.7 85.0 L1070.7 88.1 L1072.7 91.3 L1074.5 94.5 L1076.4 97.7 L1078.2 100.9 L1079.9 104.1 L1081.6 107.3 L1083.2 110.6 L1084.8 113.9 L1086.3 117.1 L1087.8 120.4 L1089.3 123.7 L1090.7 127.1 L1092.1 130.4 L1093.5 133.8 L1094.8 137.1 L1096.1 140.5 L1097.3 143.8 L1098.6 147.2 L1099.8 150.6 L1101.0 154.0 L1102.1 157.4 L1103.3 160.8 L1104.4 164.3 L1105.5 167.7 L1106.7 171.1 L1107.8 174.5 L1108.8 178.0 L1109.9 181.4 L1111.0 184.9 L1112.1 188.3 L1113.2 191.7 L1114.2 195.2 L1115.3 198.6 L1116.4 202.1 L1117.5 205.5 L1118.6 208.9 L1119.7 212.4 L1120.8 215.8 L1122.0 219.2 L1123.1 222.7 L1124.3 226.1 L1125.5 229.5 L1126.6 232.9 L1127.8 236.3 L1129.0 239.7 L1130.2 243.2 L1131.5 246.6 L1132.7 250.0 L1133.9 253.4 L1135.1 256.8 L1136.3 260.2 L1137.6 263.6 L1138.8 267.0 L1140.0 270.4 L1141.2 273.8 L1142.5 277.2 L1143.7 280.7 L1144.9 284.1 L1146.1 287.5 L1147.3 290.9 L1148.5 294.3 L1149.7 297.7 L1150.9 301.1 L1152.1 304.6 L1153.3 308.0 L1154.4 311.4 L1155.6 314.8 L1156.7 318.3 L1157.9 321.7 L1159.0 325.1 L1160.1 328.6 L1161.2 332.0 L1162.3 335.5 L1163.3 338.9 L1164.4 342.4 L1165.4 345.8 L1166.5 349.3 L1167.5 352.7 L1168.6 356.2 L1169.6 359.7 L1170.6 363.1 L1171.7 366.6 L1172.7 370.0 L1173.7 373.5 L1174.7 377.0 L1175.7 380.4 L1176.8 383.9 L1177.8 387.3 L1178.8 390.8 L1179.8 394.2 L1180.9 397.7 L1181.9 401.1 L1182.9 404.6 L1184.0 408.0 L1185.0 411.5 L1186.1 414.9 L1187.2 418.4 L1188.3 421.8 L1189.3 425.2 L1190.4 428.7 L1191.6 432.1 L1192.7 435.5 L1193.8 438.9 L1195.0 442.3 L1196.2 445.7 L1197.3 449.1 L1198.6 452.5 L1199.8 455.9 L1201.0 459.3 L1202.3 462.7 L1203.6 466.0 L1204.9 469.4 L1206.2 472.7 L1207.5 476.1 L1208.9 479.4 L1210.3 482.8 L1211.7 486.1 L1213.1 489.4 L1214.6 492.7 L1216.1 496.0 L1217.6 499.3 L1219.2 502.6 L1220.8 505.8 L1222.4 509.1 L1224.0 512.4 L1225.7 515.6 L1227.4 518.8 L1229.2 522.0 L1230.9 525.2 L1232.8 528.4 L1234.6 531.5 L1236.5 534.7 L1238.4 537.8 L1240.4 540.9 L1242.4 543.9 L1244.4 546.9 L1246.5 549.9 L1248.6 552.9 L1250.8 555.8 L1253.0 558.6 L1255.2 561.5 L1257.5 564.2 L1259.8 567.0 L1262.2 569.7 L1264.6 572.3 L1267.1 574.9 L1269.6 577.4 L1272.1 579.9 L1274.7 582.3 L1277.4 584.7 L1280.1 587.0 L1282.8 589.2 L1285.6 591.4 L1288.5 593.5 L1291.4 595.5 L1294.4 597.5 L1297.4 599.3 L1300.4 601.1 L1303.5 602.9 L1306.7 604.5 L1309.9 606.0 L1313.2 607.5 L1316.5 608.9 L1319.9 610.3 L1323.3 611.5 L1326.8 612.7 L1330.3 613.8 L1333.8 614.9 L1337.3 615.9 L1340.9 616.8 L1344.5 617.7 L1348.1 618.5 L1351.7 619.3 L1355.4 620.0 L1359.0 620.7 L1362.7 621.3 L1366.4 621.9 L1370.0 622.4 L1373.7 623.0 L1377.3 623.4 L1381.0 623.9 L1384.6 624.3 L1388.2 624.7 L1391.8 625.1 L1395.4 625.4 L1398.9 625.7 L1402.5 626.0 L1406.0 626.3 L1409.4 626.6 L1412.8 626.9 L1416.2 627.1 L1419.5 627.4" fill="none" stroke="#008000" stroke-width="5.8" stroke-linejoin="round" stroke-linecap="round" /><path d="M169.1 519.5 L174.0 519.1 L179.1 518.8 L184.1 518.6 L189.3 518.6 L194.5 518.7 L199.8 518.8 L205.1 519.1 L210.4 519.5 L215.8 519.9 L221.2 520.4 L226.7 520.9 L232.1 521.4 L237.6 522.0 L243.1 522.6 L248.6 523.1 L254.1 523.7 L259.6 524.2 L265.1 524.7 L270.6 525.1 L276.1 525.5 L281.6 525.7 L287.0 525.9 L292.5 526.0 L297.8 526.0 L303.2 525.8 L308.5 525.5 L313.8 525.1 L319.0 524.5 L324.1 523.7 L329.2 522.7 L334.2 521.6 L339.2 520.2 L344.1 518.6 L348.9 516.8 L353.6 514.7 L358.3 512.3 L362.8 509.7 L367.3 506.9 L371.7 503.9 L376.1 500.7 L380.4 497.4 L384.7 494.0 L389.0 490.5 L393.3 487.1 L397.7 483.7 L402.0 480.3 L406.5 477.1 L410.9 474.0 L415.5 471.0 L420.2 468.3 L424.9 465.8 L429.7 463.4 L434.6 461.2 L439.5 459.1 L444.4 457.1 L449.4 455.1 L454.3 453.1 L459.2 451.1 L464.1 449.0 L468.9 446.8 L473.7 444.5 L478.3 442.0 L482.9 439.4 L487.4 436.7 L491.8 433.7 L496.1 430.7 L500.4 427.5 L504.5 424.2 L508.6 420.7 L512.6 417.1 L516.4 413.5 L520.2 409.7 L524.0 405.8 L527.6 401.8 L531.2 397.7 L534.6 393.6 L538.0 389.4 L541.3 385.1 L544.5 380.7 L547.7 376.3 L550.7 371.9 L553.7 367.3 L556.6 362.8 L559.4 358.2 L562.2 353.6 L564.8 349.0 L567.4 344.3 L570.0 339.7 L572.4 335.0 L574.9 330.3 L577.3 325.6 L579.6 320.9 L582.0 316.2 L584.4 311.4 L586.7 306.7 L589.1 302.0 L591.5 297.3 L593.9 292.5 L596.4 287.8 L598.9 283.1 L601.5 278.4 L604.1 273.7 L606.8 269.0 L609.6 264.3 L612.5 259.7 L615.5 255.0 L618.7 250.4 L621.9 245.8 L625.3 241.3 L628.8 236.9 L632.4 232.6 L636.3 228.7 L640.2 225.0 L644.4 221.7 L648.7 218.9 L653.2 216.6 L657.9 214.9 L662.7 213.8 L667.8 213.5 L673.0 213.8 L678.2 214.7 L683.3 216.2 L688.2 218.2 L692.9 220.7 L697.4 223.5 L701.6 226.7 L705.7 230.3 L709.6 234.0 L713.4 237.9 L717.0 242.0 L720.6 246.2 L724.1 250.4 L727.6 254.7 L731.1 258.9 L734.6 263.0 L738.0 267.2 L741.5 271.3 L744.9 275.4 L748.4 279.5 L751.9 283.5 L755.3 287.5 L758.9 291.4 L762.4 295.3 L766.0 299.2 L769.6 303.0 L773.3 306.7 L776.9 310.5 L780.7 314.2 L784.4 317.9 L788.2 321.6 L792.1 325.2 L795.9 328.9 L799.9 332.5 L803.8 336.1 L807.8 339.7 L811.9 343.3 L816.0 346.9 L820.2 350.5 L824.3 354.1 L828.6 357.8 L832.9 361.4 L837.2 365.0 L841.7 368.5 L846.1 371.7 L850.7 374.4 L855.3 376.5 L859.9 378.0 L864.7 378.6 L869.5 378.2 L874.4 376.8 L879.1 374.7 L883.7 371.9 L887.9 368.7 L891.8 365.1 L895.3 361.2 L898.6 357.0 L901.6 352.6 L904.4 347.9 L907.0 343.1 L909.4 338.2 L911.7 333.1 L913.9 328.0 L916.0 322.9 L918.1 317.8 L920.1 312.7 L922.2 307.7 L924.2 302.6 L926.2 297.7 L928.2 292.7 L930.2 287.7 L932.1 282.8 L934.1 277.8 L936.0 272.9 L937.9 268.0 L939.8 263.0 L941.6 258.1 L943.5 253.2 L945.3 248.3 L947.2 243.3 L949.0 238.3 L950.8 233.4 L952.6 228.4 L954.4 223.4 L956.2 218.3 L958.0 213.3 L959.8 208.2 L961.6 203.1 L963.4 198.0 L965.2 192.9 L966.9 187.8 L968.7 182.7 L970.5 177.6 L972.3 172.5 L974.1 167.5 L975.9 162.4 L977.7 157.3 L979.6 152.3 L981.4 147.3 L983.2 142.3 L985.1 137.3 L987.0 132.4 L988.9 127.5 L990.9 122.6 L993.0 117.7 L995.2 112.8 L997.4 107.9 L999.8 103.1 L1002.3 98.2 L1005.0 93.4 L1007.8 88.5 L1010.8 83.8 L1014.2 79.4 L1018.1 75.5 L1022.4 72.2 L1027.2 69.7 L1032.3 67.9 L1037.5 66.8 L1042.7 66.5 L1047.7 67.0 L1052.4 68.2 L1056.7 70.1 L1060.6 72.7 L1064.3 75.9 L1067.6 79.5 L1070.7 83.6 L1073.6 88.1 L1076.3 92.9 L1078.9 97.8 L1081.3 103.0 L1083.6 108.2 L1085.9 113.4 L1088.1 118.6 L1090.3 123.8 L1092.4 129.0 L1094.5 134.1 L1096.6 139.3 L1098.6 144.4 L1100.6 149.5 L1102.6 154.6 L1104.5 159.6 L1106.4 164.7 L1108.3 169.7 L1110.1 174.8 L1111.9 179.8 L1113.7 184.8 L1115.5 189.8 L1117.2 194.8 L1119.0 199.8 L1120.7 204.8 L1122.4 209.8 L1124.0 214.8 L1125.7 219.8 L1127.4 224.8 L1129.0 229.8 L1130.6 234.8 L1132.3 239.8 L1133.9 244.8 L1135.5 249.8 L1137.1 254.8 L1138.8 259.8 L1140.4 264.9 L1142.0 269.9 L1143.6 275.0 L1145.3 280.0 L1146.9 285.1 L1148.6 290.2 L1150.2 295.3 L1151.9 300.4 L1153.5 305.6 L1155.2 310.7 L1156.9 315.8 L1158.6 321.0 L1160.3 326.1 L1162.0 331.3 L1163.7 336.4 L1165.4 341.6 L1167.1 346.7 L1168.8 351.9 L1170.5 357.0 L1172.3 362.2 L1174.0 367.3 L1175.7 372.4 L1177.4 377.6 L1179.2 382.7 L1180.9 387.8 L1182.6 392.9 L1184.3 397.9 L1186.1 403.0 L1187.8 408.1 L1189.6 413.1 L1191.4 418.1 L1193.2 423.1 L1195.0 428.1 L1196.8 433.0 L1198.7 438.0 L1200.7 442.9 L1202.7 447.8 L1204.7 452.7 L1206.8 457.6 L1208.9 462.4 L1211.1 467.2 L1213.4 472.0 L1215.8 476.8 L1218.2 481.5 L1220.7 486.2 L1223.3 490.9 L1226.0 495.5 L1228.8 500.1 L1231.6 504.7 L1234.5 509.3 L1237.5 513.7 L1240.6 518.2 L1243.7 522.6 L1247.0 526.9 L1250.3 531.2 L1253.6 535.4 L1257.1 539.5 L1260.6 543.6 L1264.2 547.6 L1267.9 551.6 L1271.7 555.4 L1275.5 559.2 L1279.4 562.9 L1283.4 566.5 L1287.4 570.1 L1291.6 573.5 L1295.7 576.8 L1300.0 580.1 L1304.3 583.2 L1308.7 586.3 L1313.1 589.2 L1317.7 592.0 L1322.2 594.7 L1326.9 597.4 L1331.5 599.9 L1336.3 602.3 L1341.1 604.5 L1345.9 606.7 L1350.8 608.7 L1355.7 610.7 L1360.7 612.4 L1365.7 614.1 L1370.8 615.7 L1375.9 617.1 L1381.0 618.4 L1386.2 619.5 L1391.4 620.6 L1396.6 621.5 L1401.9 622.3 L1407.2 623.0 L1412.5 623.6 L1417.9 624.1 L1423.2 624.6 L1428.6 624.9 L1434.0 625.2 L1439.4 625.4 L1444.8 625.6 L1450.3 625.7 L1455.7 625.7 L1461.2 625.7 L1466.6 625.7 L1472.1 625.6 L1477.5 625.6 L1483.0 625.5 L1488.4 625.4 L1493.8 625.3 L1499.3 625.2 L1504.7 625.1 L1510.1 625.0 L1515.5 624.9 L1520.8 624.9 L1526.2 624.9 L1531.5 624.9 L1536.8 625.0 L1542.1 625.2 L1547.3 625.4 L1552.5 625.6 L1557.7 626.0 L1562.9 626.4" fill="none" stroke="#FF0000" stroke-width="5.8" stroke-linejoin="round" stroke-linecap="round" /><text x="181.0" y="915.6" font-family="'Liberation Sans', Arial, sans-serif" font-size="76" fill="#000" letter-spacing="0.7" stroke-width="0.7" stroke="#000">Pd@PP-3AU</text><text x="971.2" y="1186.7" font-family="'Liberation Sans', Arial, sans-serif" font-size="63" fill="#008000" stroke-width="0.7" stroke="#008000">Pd(II)</text><text x="593.1" y="1322.9" font-family="'Liberation Sans', Arial, sans-serif" font-size="63" fill="#008000" stroke-width="0.7" stroke="#008000">Pd(II)</text><text x="726.9" y="1397.9" font-family="'Liberation Sans', Arial, sans-serif" font-size="76" fill="#0000FF" letter-spacing="0.4" stroke-width="0.7" stroke="#0000FF">Pd3d<tspan font-size="46" dx="2" dy="29.6" stroke-width="0.3">3/2</tspan></text><path d="M560.0 1621.4 L561.5 1621.4 L563.0 1621.4 L564.5 1621.3 L566.0 1621.3 L567.5 1621.3 L569.0 1621.3 L570.5 1621.3 L572.0 1621.3 L573.5 1621.3 L575.1 1621.3 L576.6 1621.3 L578.1 1621.3 L579.6 1621.3 L581.1 1621.2 L582.6 1621.2 L584.1 1621.2 L585.6 1621.2 L587.1 1621.2 L588.6 1621.1 L590.1 1621.1 L591.6 1621.1 L593.1 1621.0 L594.6 1621.0 L596.1 1621.0 L597.6 1620.9 L599.1 1620.9 L600.6 1620.8 L602.1 1620.8 L603.6 1620.7 L605.2 1620.6 L606.7 1620.6 L608.2 1620.5 L609.7 1620.4 L611.2 1620.3 L612.7 1620.2 L614.2 1620.1 L615.7 1620.0 L617.2 1619.9 L618.7 1619.7 L620.2 1619.6 L621.7 1619.4 L623.2 1619.3 L624.7 1619.1 L626.2 1618.9 L627.7 1618.7 L629.2 1618.5 L630.7 1618.2 L632.2 1618.0 L633.7 1617.7 L635.3 1617.4 L636.8 1617.1 L638.3 1616.8 L639.8 1616.4 L641.3 1616.1 L642.8 1615.7 L644.3 1615.2 L645.8 1614.8 L647.3 1614.3 L648.8 1613.8 L650.3 1613.3 L651.8 1612.7 L653.3 1612.1 L654.8 1611.5 L656.3 1610.8 L657.8 1610.1 L659.3 1609.4 L660.8 1608.6 L662.3 1607.7 L663.8 1606.9 L665.4 1606.0 L666.9 1605.0 L668.4 1604.0 L669.9 1603.0 L671.4 1601.9 L672.9 1600.7 L674.4 1599.6 L675.9 1598.3 L677.4 1597.0 L678.9 1595.7 L680.4 1594.3 L681.9 1592.8 L683.4 1591.3 L684.9 1589.7 L686.4 1588.1 L687.9 1586.4 L689.4 1584.6 L690.9 1582.8 L692.4 1581.0 L693.9 1579.0 L695.5 1577.1 L697.0 1575.0 L698.5 1572.9 L700.0 1570.8 L701.5 1568.6 L703.0 1566.3 L704.5 1564.0 L706.0 1561.6 L707.5 1559.2 L709.0 1556.7 L710.5 1554.2 L712.0 1551.7 L713.5 1549.1 L715.0 1546.4 L716.5 1543.7 L718.0 1541.0 L719.5 1538.3 L721.0 1535.5 L722.5 1532.7 L724.0 1529.8 L725.6 1527.0 L727.1 1524.1 L728.6 1521.2 L730.1 1518.3 L731.6 1515.4 L733.1 1512.5 L734.6 1509.6 L736.1 1506.8 L737.6 1503.9 L739.1 1501.0 L740.6 1498.2 L742.1 1495.4 L743.6 1492.6 L745.1 1489.9 L746.6 1487.2 L748.1 1484.6 L749.6 1482.0 L751.1 1479.5 L752.6 1477.0 L754.1 1474.6 L755.7 1472.3 L757.2 1470.0 L758.7 1467.9 L760.2 1465.8 L761.7 1463.8 L763.2 1461.9 L764.7 1460.1 L766.2 1458.4 L767.7 1456.8 L769.2 1455.3 L770.7 1454.0 L772.2 1452.7 L773.7 1451.6 L775.2 1450.5 L776.7 1449.6 L778.2 1448.9 L779.7 1448.2 L781.2 1447.7 L782.7 1447.3 L784.2 1447.0 L785.8 1446.9 L787.3 1446.9 L788.8 1447.0 L790.3 1447.3 L791.8 1447.7 L793.3 1448.2 L794.8 1448.9 L796.3 1449.6 L797.8 1450.5 L799.3 1451.6 L800.8 1452.7 L802.3 1454.0 L803.8 1455.3 L805.3 1456.8 L806.8 1458.4 L808.3 1460.1 L809.8 1461.9 L811.3 1463.8 L812.8 1465.8 L814.3 1467.9 L815.9 1470.1 L817.4 1472.3 L818.9 1474.6 L820.4 1477.0 L821.9 1479.5 L823.4 1482.0 L824.9 1484.6 L826.4 1487.3 L827.9 1489.9 L829.4 1492.7 L830.9 1495.4 L832.4 1498.2 L833.9 1501.1 L835.4 1503.9 L836.9 1506.8 L838.4 1509.7 L839.9 1512.5 L841.4 1515.4 L842.9 1518.3 L844.4 1521.2 L846.0 1524.1 L847.5 1527.0 L849.0 1529.8 L850.5 1532.7 L852.0 1535.5 L853.5 1538.3 L855.0 1541.0 L856.5 1543.7 L858.0 1546.4 L859.5 1549.1 L861.0 1551.7 L862.5 1554.2 L864.0 1556.8 L865.5 1559.2 L867.0 1561.6 L868.5 1564.0 L870.0 1566.3 L871.5 1568.6 L873.0 1570.8 L874.5 1573.0 L876.1 1575.0 L877.6 1577.1 L879.1 1579.1 L880.6 1581.0 L882.1 1582.8 L883.6 1584.6 L885.1 1586.4 L886.6 1588.1 L888.1 1589.7 L889.6 1591.3 L891.1 1592.8 L892.6 1594.3 L894.1 1595.7 L895.6 1597.0 L897.1 1598.3 L898.6 1599.6 L900.1 1600.8 L901.6 1601.9 L903.1 1603.0 L904.6 1604.0 L906.2 1605.0 L907.7 1606.0 L909.2 1606.9 L910.7 1607.8 L912.2 1608.6 L913.7 1609.4 L915.2 1610.1 L916.7 1610.8 L918.2 1611.5 L919.7 1612.1 L921.2 1612.7 L922.7 1613.3 L924.2 1613.8 L925.7 1614.3 L927.2 1614.8 L928.7 1615.2 L930.2 1615.7 L931.7 1616.1 L933.2 1616.4 L934.7 1616.8 L936.3 1617.1 L937.8 1617.4 L939.3 1617.7 L940.8 1618.0 L942.3 1618.2 L943.8 1618.5 L945.3 1618.7 L946.8 1618.9 L948.3 1619.1 L949.8 1619.3 L951.3 1619.4 L952.8 1619.6 L954.3 1619.7 L955.8 1619.9 L957.3 1620.0 L958.8 1620.1 L960.3 1620.2 L961.8 1620.3 L963.3 1620.4 L964.8 1620.5 L966.4 1620.6 L967.9 1620.6 L969.4 1620.7 L970.9 1620.8 L972.4 1620.8 L973.9 1620.9 L975.4 1620.9 L976.9 1621.0 L978.4 1621.0 L979.9 1621.0 L981.4 1621.1 L982.9 1621.1 L984.4 1621.1 L985.9 1621.2 L987.4 1621.2 L988.9 1621.2 L990.4 1621.2 L991.9 1621.2 L993.4 1621.3 L994.9 1621.3 L996.5 1621.3 L998.0 1621.3 L999.5 1621.3 L1001.0 1621.3 L1002.5 1621.3 L1004.0 1621.3 L1005.5 1621.3 L1007.0 1621.3 L1008.5 1621.3 L1010.0 1621.4" fill="none" stroke="#0000FF" stroke-width="5.8" stroke-linejoin="round" stroke-linecap="round" /><path d="M900.0 1621.3 L901.8 1621.3 L903.5 1621.3 L905.3 1621.3 L907.1 1621.3 L908.9 1621.3 L910.6 1621.3 L912.4 1621.3 L914.2 1621.3 L916.0 1621.2 L917.7 1621.2 L919.5 1621.2 L921.3 1621.2 L923.0 1621.1 L924.8 1621.1 L926.6 1621.1 L928.4 1621.1 L930.1 1621.0 L931.9 1621.0 L933.7 1620.9 L935.5 1620.9 L937.2 1620.8 L939.0 1620.8 L940.8 1620.7 L942.5 1620.6 L944.3 1620.6 L946.1 1620.5 L947.9 1620.4 L949.6 1620.3 L951.4 1620.2 L953.2 1620.0 L954.9 1619.9 L956.7 1619.8 L958.5 1619.6 L960.3 1619.5 L962.0 1619.3 L963.8 1619.1 L965.6 1618.9 L967.4 1618.6 L969.1 1618.4 L970.9 1618.1 L972.7 1617.8 L974.4 1617.5 L976.2 1617.2 L978.0 1616.9 L979.8 1616.5 L981.5 1616.1 L983.3 1615.6 L985.1 1615.1 L986.9 1614.6 L988.6 1614.1 L990.4 1613.5 L992.2 1612.9 L993.9 1612.2 L995.7 1611.5 L997.5 1610.8 L999.3 1610.0 L1001.0 1609.2 L1002.8 1608.3 L1004.6 1607.3 L1006.4 1606.3 L1008.1 1605.2 L1009.9 1604.1 L1011.7 1602.9 L1013.4 1601.7 L1015.2 1600.3 L1017.0 1598.9 L1018.8 1597.5 L1020.5 1595.9 L1022.3 1594.3 L1024.1 1592.6 L1025.9 1590.8 L1027.6 1588.9 L1029.4 1586.9 L1031.2 1584.8 L1032.9 1582.7 L1034.7 1580.4 L1036.5 1578.1 L1038.3 1575.6 L1040.0 1573.1 L1041.8 1570.4 L1043.6 1567.7 L1045.4 1564.8 L1047.1 1561.9 L1048.9 1558.8 L1050.7 1555.6 L1052.4 1552.4 L1054.2 1549.0 L1056.0 1545.5 L1057.8 1541.9 L1059.5 1538.2 L1061.3 1534.4 L1063.1 1530.4 L1064.8 1526.4 L1066.6 1522.3 L1068.4 1518.1 L1070.2 1513.8 L1071.9 1509.4 L1073.7 1504.9 L1075.5 1500.3 L1077.3 1495.7 L1079.0 1491.0 L1080.8 1486.2 L1082.6 1481.3 L1084.3 1476.4 L1086.1 1471.4 L1087.9 1466.4 L1089.7 1461.3 L1091.4 1456.2 L1093.2 1451.0 L1095.0 1445.9 L1096.8 1440.7 L1098.5 1435.5 L1100.3 1430.3 L1102.1 1425.1 L1103.8 1420.0 L1105.6 1414.8 L1107.4 1409.8 L1109.2 1404.7 L1110.9 1399.7 L1112.7 1394.8 L1114.5 1389.9 L1116.3 1385.1 L1118.0 1380.4 L1119.8 1375.8 L1121.6 1371.3 L1123.3 1367.0 L1125.1 1362.7 L1126.9 1358.6 L1128.7 1354.7 L1130.4 1350.9 L1132.2 1347.2 L1134.0 1343.7 L1135.8 1340.4 L1137.5 1337.3 L1139.3 1334.4 L1141.1 1331.6 L1142.8 1329.1 L1144.6 1326.8 L1146.4 1324.7 L1148.2 1322.8 L1149.9 1321.1 L1151.7 1319.7 L1153.5 1318.5 L1155.3 1317.5 L1157.0 1316.8 L1158.8 1316.3 L1160.6 1316.0 L1162.3 1316.0 L1164.1 1316.2 L1165.9 1316.7 L1167.7 1317.4 L1169.4 1318.3 L1171.2 1319.5 L1173.0 1320.9 L1174.7 1322.5 L1176.5 1324.4 L1178.3 1326.4 L1180.1 1328.7 L1181.8 1331.2 L1183.6 1333.9 L1185.4 1336.8 L1187.2 1339.9 L1188.9 1343.2 L1190.7 1346.6 L1192.5 1350.3 L1194.2 1354.0 L1196.0 1358.0 L1197.8 1362.1 L1199.6 1366.3 L1201.3 1370.6 L1203.1 1375.1 L1204.9 1379.7 L1206.7 1384.3 L1208.4 1389.1 L1210.2 1394.0 L1212.0 1398.9 L1213.7 1403.9 L1215.5 1408.9 L1217.3 1414.0 L1219.1 1419.1 L1220.8 1424.3 L1222.6 1429.5 L1224.4 1434.6 L1226.2 1439.8 L1227.9 1445.0 L1229.7 1450.2 L1231.5 1455.3 L1233.2 1460.4 L1235.0 1465.5 L1236.8 1470.6 L1238.6 1475.6 L1240.3 1480.5 L1242.1 1485.4 L1243.9 1490.2 L1245.7 1494.9 L1247.4 1499.6 L1249.2 1504.2 L1251.0 1508.7 L1252.7 1513.1 L1254.5 1517.4 L1256.3 1521.6 L1258.1 1525.8 L1259.8 1529.8 L1261.6 1533.7 L1263.4 1537.6 L1265.2 1541.3 L1266.9 1544.9 L1268.7 1548.4 L1270.5 1551.8 L1272.2 1555.1 L1274.0 1558.3 L1275.8 1561.4 L1277.6 1564.4 L1279.3 1567.2 L1281.1 1570.0 L1282.9 1572.7 L1284.6 1575.2 L1286.4 1577.7 L1288.2 1580.1 L1290.0 1582.3 L1291.7 1584.5 L1293.5 1586.6 L1295.3 1588.6 L1297.1 1590.5 L1298.8 1592.3 L1300.6 1594.0 L1302.4 1595.6 L1304.1 1597.2 L1305.9 1598.7 L1307.7 1600.1 L1309.5 1601.4 L1311.2 1602.7 L1313.0 1603.9 L1314.8 1605.1 L1316.6 1606.1 L1318.3 1607.2 L1320.1 1608.1 L1321.9 1609.0 L1323.6 1609.9 L1325.4 1610.7 L1327.2 1611.4 L1329.0 1612.1 L1330.7 1612.8 L1332.5 1613.4 L1334.3 1614.0 L1336.1 1614.6 L1337.8 1615.1 L1339.6 1615.5 L1341.4 1616.0 L1343.1 1616.4 L1344.9 1616.8 L1346.7 1617.2 L1348.5 1617.5 L1350.2 1617.8 L1352.0 1618.1 L1353.8 1618.4 L1355.6 1618.6 L1357.3 1618.8 L1359.1 1619.1 L1360.9 1619.2 L1362.6 1619.4 L1364.4 1619.6 L1366.2 1619.8 L1368.0 1619.9 L1369.7 1620.0 L1371.5 1620.1 L1373.3 1620.3 L1375.1 1620.4 L1376.8 1620.5 L1378.6 1620.5 L1380.4 1620.6 L1382.1 1620.7 L1383.9 1620.8 L1385.7 1620.8 L1387.5 1620.9 L1389.2 1620.9 L1391.0 1621.0 L1392.8 1621.0 L1394.5 1621.1 L1396.3 1621.1 L1398.1 1621.1 L1399.9 1621.1 L1401.6 1621.2 L1403.4 1621.2 L1405.2 1621.2 L1407.0 1621.2 L1408.7 1621.3 L1410.5 1621.3 L1412.3 1621.3 L1414.0 1621.3 L1415.8 1621.3 L1417.6 1621.3 L1419.4 1621.3 L1421.1 1621.3 L1422.9 1621.3 L1424.7 1621.3 L1426.5 1621.4 L1428.2 1621.4 L1430.0 1621.4" fill="none" stroke="#0000FF" stroke-width="5.8" stroke-linejoin="round" stroke-linecap="round" /><path d="M215.0 1619.9 L218.0 1619.8 L221.1 1619.7 L224.1 1619.7 L227.2 1619.6 L230.2 1619.5 L233.3 1619.4 L236.3 1619.4 L239.3 1619.3 L242.4 1619.1 L245.4 1619.0 L248.5 1618.9 L251.5 1618.8 L254.6 1618.6 L257.6 1618.5 L260.7 1618.3 L263.7 1618.1 L266.7 1618.0 L269.8 1617.8 L272.8 1617.5 L275.9 1617.3 L278.9 1617.1 L282.0 1616.8 L285.0 1616.5 L288.0 1616.2 L291.1 1615.9 L294.1 1615.5 L297.2 1615.2 L300.2 1614.8 L303.3 1614.4 L306.3 1613.9 L309.3 1613.4 L312.4 1612.9 L315.4 1612.4 L318.5 1611.8 L321.5 1611.3 L324.6 1610.6 L327.6 1609.9 L330.7 1609.2 L333.7 1608.5 L336.7 1607.7 L339.8 1606.9 L342.8 1606.0 L345.9 1605.1 L348.9 1604.1 L352.0 1603.0 L355.0 1602.0 L358.0 1600.8 L361.1 1599.6 L364.1 1598.3 L367.2 1597.0 L370.2 1595.6 L373.3 1594.2 L376.3 1592.7 L379.3 1591.1 L382.4 1589.4 L385.4 1587.6 L388.5 1585.8 L391.5 1583.9 L394.6 1581.9 L397.6 1579.9 L400.7 1577.7 L403.7 1575.5 L406.7 1573.1 L409.8 1570.7 L412.8 1568.2 L415.9 1565.6 L418.9 1562.9 L422.0 1560.1 L425.0 1557.2 L428.0 1554.2 L431.1 1551.0 L434.1 1547.8 L437.2 1544.5 L440.2 1541.1 L443.3 1537.5 L446.3 1533.9 L449.3 1530.2 L452.4 1526.3 L455.4 1522.3 L458.5 1518.3 L461.5 1514.1 L464.6 1509.8 L467.6 1505.4 L470.7 1500.9 L473.7 1496.3 L476.7 1491.6 L479.8 1486.9 L482.8 1482.0 L485.9 1477.0 L488.9 1471.9 L492.0 1466.7 L495.0 1461.4 L498.0 1456.1 L501.1 1450.7 L504.1 1445.2 L507.2 1439.6 L510.2 1433.9 L513.3 1428.2 L516.3 1422.4 L519.3 1416.6 L522.4 1410.7 L525.4 1404.8 L528.5 1398.8 L531.5 1392.9 L534.6 1386.8 L537.6 1380.8 L540.7 1374.7 L543.7 1368.7 L546.7 1362.6 L549.8 1356.6 L552.8 1350.5 L555.9 1344.5 L558.9 1338.5 L562.0 1332.6 L565.0 1326.7 L568.0 1320.8 L571.1 1315.0 L574.1 1309.3 L577.2 1303.7 L580.2 1298.1 L583.3 1292.7 L586.3 1287.3 L589.3 1282.0 L592.4 1276.9 L595.4 1271.9 L598.5 1267.0 L601.5 1262.3 L604.6 1257.7 L607.6 1253.2 L610.7 1248.9 L613.7 1244.8 L616.7 1240.9 L619.8 1237.1 L622.8 1233.6 L625.9 1230.2 L628.9 1227.0 L632.0 1224.1 L635.0 1221.3 L638.0 1218.7 L641.1 1216.4 L644.1 1214.3 L647.2 1212.4 L650.2 1210.8 L653.3 1209.4 L656.3 1208.2 L659.3 1207.2 L662.4 1206.5 L665.4 1206.1 L668.5 1205.8 L671.5 1205.8 L674.6 1206.1 L677.6 1206.6 L680.7 1207.3 L683.7 1208.3 L686.7 1209.5 L689.8 1210.9 L692.8 1212.6 L695.9 1214.5 L698.9 1216.6 L702.0 1219.0 L705.0 1221.6 L708.0 1224.3 L711.1 1227.3 L714.1 1230.5 L717.2 1233.9 L720.2 1237.5 L723.3 1241.3 L726.3 1245.2 L729.3 1249.4 L732.4 1253.6 L735.4 1258.1 L738.5 1262.7 L741.5 1267.5 L744.6 1272.4 L747.6 1277.4 L750.7 1282.5 L753.7 1287.8 L756.7 1293.2 L759.8 1298.7 L762.8 1304.2 L765.9 1309.9 L768.9 1315.6 L772.0 1321.4 L775.0 1327.3 L778.0 1333.2 L781.1 1339.1 L784.1 1345.1 L787.2 1351.1 L790.2 1357.2 L793.3 1363.2 L796.3 1369.3 L799.3 1375.3 L802.4 1381.4 L805.4 1387.4 L808.5 1393.4 L811.5 1399.4 L814.6 1405.4 L817.6 1411.3 L820.7 1417.2 L823.7 1423.0 L826.7 1428.8 L829.8 1434.5 L832.8 1440.1 L835.9 1445.7 L838.9 1451.2 L842.0 1456.6 L845.0 1462.0 L848.0 1467.2 L851.1 1472.4 L854.1 1477.5 L857.2 1482.4 L860.2 1487.3 L863.3 1492.1 L866.3 1496.8 L869.3 1501.4 L872.4 1505.9 L875.4 1510.2 L878.5 1514.5 L881.5 1518.7 L884.6 1522.7 L887.6 1526.7 L890.7 1530.5 L893.7 1534.3 L896.7 1537.9 L899.8 1541.4 L902.8 1544.8 L905.9 1548.2 L908.9 1551.4 L912.0 1554.5 L915.0 1557.5 L918.0 1560.4 L921.1 1563.2 L924.1 1565.9 L927.2 1568.5 L930.2 1571.0 L933.3 1573.4 L936.3 1575.7 L939.3 1577.9 L942.4 1580.1 L945.4 1582.1 L948.5 1584.1 L951.5 1586.0 L954.6 1587.8 L957.6 1589.6 L960.7 1591.2 L963.7 1592.8 L966.7 1594.3 L969.8 1595.8 L972.8 1597.2 L975.9 1598.5 L978.9 1599.7 L982.0 1600.9 L985.0 1602.1 L988.0 1603.1 L991.1 1604.2 L994.1 1605.1 L997.2 1606.1 L1000.2 1606.9 L1003.3 1607.8 L1006.3 1608.6 L1009.3 1609.3 L1012.4 1610.0 L1015.4 1610.7 L1018.5 1611.3 L1021.5 1611.9 L1024.6 1612.5 L1027.6 1613.0 L1030.7 1613.5 L1033.7 1614.0 L1036.7 1614.4 L1039.8 1614.8 L1042.8 1615.2 L1045.9 1615.6 L1048.9 1615.9 L1052.0 1616.2 L1055.0 1616.5 L1058.0 1616.8 L1061.1 1617.1 L1064.1 1617.3 L1067.2 1617.6 L1070.2 1617.8 L1073.3 1618.0 L1076.3 1618.2 L1079.3 1618.3 L1082.4 1618.5 L1085.4 1618.7 L1088.5 1618.8 L1091.5 1618.9 L1094.6 1619.0 L1097.6 1619.2 L1100.7 1619.3 L1103.7 1619.4 L1106.7 1619.5 L1109.8 1619.5 L1112.8 1619.6 L1115.9 1619.7 L1118.9 1619.8 L1122.0 1619.8 L1125.0 1619.9" fill="none" stroke="#008000" stroke-width="5.8" stroke-linejoin="round" stroke-linecap="round" /><path d="M499.0 1619.7 L502.6 1619.6 L506.1 1619.6 L509.7 1619.5 L513.2 1619.4 L516.8 1619.3 L520.4 1619.2 L523.9 1619.1 L527.5 1619.0 L531.0 1618.8 L534.6 1618.7 L538.1 1618.5 L541.7 1618.4 L545.3 1618.2 L548.8 1618.0 L552.4 1617.8 L555.9 1617.6 L559.5 1617.4 L563.1 1617.1 L566.6 1616.8 L570.2 1616.6 L573.7 1616.2 L577.3 1615.9 L580.8 1615.6 L584.4 1615.2 L588.0 1614.8 L591.5 1614.4 L595.1 1613.9 L598.6 1613.5 L602.2 1612.9 L605.8 1612.4 L609.3 1611.8 L612.9 1611.2 L616.4 1610.6 L620.0 1609.9 L623.5 1609.1 L627.1 1608.4 L630.7 1607.6 L634.2 1606.7 L637.8 1605.8 L641.3 1604.8 L644.9 1603.8 L648.5 1602.7 L652.0 1601.6 L655.6 1600.4 L659.1 1599.1 L662.7 1597.8 L666.3 1596.4 L669.8 1594.9 L673.4 1593.4 L676.9 1591.7 L680.5 1590.0 L684.0 1588.3 L687.6 1586.4 L691.2 1584.4 L694.7 1582.4 L698.3 1580.2 L701.8 1578.0 L705.4 1575.7 L709.0 1573.2 L712.5 1570.7 L716.1 1568.0 L719.6 1565.3 L723.2 1562.4 L726.7 1559.4 L730.3 1556.3 L733.9 1553.1 L737.4 1549.8 L741.0 1546.3 L744.5 1542.7 L748.1 1539.0 L751.7 1535.1 L755.2 1531.1 L758.8 1527.0 L762.3 1522.8 L765.9 1518.4 L769.4 1513.9 L773.0 1509.2 L776.6 1504.4 L780.1 1499.4 L783.7 1494.4 L787.2 1489.1 L790.8 1483.8 L794.4 1478.3 L797.9 1472.7 L801.5 1466.9 L805.0 1461.0 L808.6 1454.9 L812.2 1448.8 L815.7 1442.5 L819.3 1436.0 L822.8 1429.5 L826.4 1422.8 L829.9 1416.0 L833.5 1409.1 L837.1 1402.1 L840.6 1395.0 L844.2 1387.7 L847.7 1380.4 L851.3 1373.0 L854.9 1365.5 L858.4 1357.9 L862.0 1350.3 L865.5 1342.6 L869.1 1334.8 L872.6 1327.0 L876.2 1319.1 L879.8 1311.2 L883.3 1303.3 L886.9 1295.3 L890.4 1287.3 L894.0 1279.4 L897.6 1271.4 L901.1 1263.4 L904.7 1255.5 L908.2 1247.6 L911.8 1239.8 L915.3 1232.0 L918.9 1224.3 L922.5 1216.6 L926.0 1209.0 L929.6 1201.6 L933.1 1194.2 L936.7 1186.9 L940.3 1179.8 L943.8 1172.8 L947.4 1166.0 L950.9 1159.3 L954.5 1152.7 L958.1 1146.4 L961.6 1140.2 L965.2 1134.2 L968.7 1128.4 L972.3 1122.9 L975.8 1117.5 L979.4 1112.4 L983.0 1107.5 L986.5 1102.9 L990.1 1098.5 L993.6 1094.4 L997.2 1090.6 L1000.8 1087.0 L1004.3 1083.7 L1007.9 1080.7 L1011.4 1077.9 L1015.0 1075.5 L1018.5 1073.4 L1022.1 1071.5 L1025.7 1070.0 L1029.2 1068.8 L1032.8 1067.8 L1036.3 1067.2 L1039.9 1066.9 L1043.5 1066.9 L1047.0 1067.3 L1050.6 1067.9 L1054.1 1068.9 L1057.7 1070.1 L1061.2 1071.7 L1064.8 1073.6 L1068.4 1075.7 L1071.9 1078.2 L1075.5 1080.9 L1079.0 1084.0 L1082.6 1087.3 L1086.2 1090.9 L1089.7 1094.8 L1093.3 1099.0 L1096.8 1103.4 L1100.4 1108.0 L1103.9 1112.9 L1107.5 1118.1 L1111.1 1123.4 L1114.6 1129.0 L1118.2 1134.8 L1121.7 1140.8 L1125.3 1147.0 L1128.9 1153.4 L1132.4 1159.9 L1136.0 1166.6 L1139.5 1173.5 L1143.1 1180.5 L1146.7 1187.6 L1150.2 1194.9 L1153.8 1202.3 L1157.3 1209.8 L1160.9 1217.4 L1164.4 1225.0 L1168.0 1232.8 L1171.6 1240.6 L1175.1 1248.4 L1178.7 1256.3 L1182.2 1264.2 L1185.8 1272.2 L1189.4 1280.1 L1192.9 1288.1 L1196.5 1296.1 L1200.0 1304.0 L1203.6 1312.0 L1207.1 1319.9 L1210.7 1327.7 L1214.3 1335.6 L1217.8 1343.3 L1221.4 1351.0 L1224.9 1358.7 L1228.5 1366.2 L1232.1 1373.7 L1235.6 1381.1 L1239.2 1388.5 L1242.7 1395.7 L1246.3 1402.8 L1249.8 1409.8 L1253.4 1416.7 L1257.0 1423.5 L1260.5 1430.1 L1264.1 1436.7 L1267.6 1443.1 L1271.2 1449.4 L1274.8 1455.5 L1278.3 1461.6 L1281.9 1467.5 L1285.4 1473.2 L1289.0 1478.8 L1292.6 1484.3 L1296.1 1489.7 L1299.7 1494.9 L1303.2 1499.9 L1306.8 1504.9 L1310.3 1509.7 L1313.9 1514.3 L1317.5 1518.8 L1321.0 1523.2 L1324.6 1527.4 L1328.1 1531.5 L1331.7 1535.5 L1335.3 1539.4 L1338.8 1543.1 L1342.4 1546.6 L1345.9 1550.1 L1349.5 1553.4 L1353.0 1556.6 L1356.6 1559.7 L1360.2 1562.7 L1363.7 1565.6 L1367.3 1568.3 L1370.8 1571.0 L1374.4 1573.5 L1378.0 1575.9 L1381.5 1578.2 L1385.1 1580.5 L1388.6 1582.6 L1392.2 1584.6 L1395.7 1586.6 L1399.3 1588.4 L1402.9 1590.2 L1406.4 1591.9 L1410.0 1593.5 L1413.5 1595.1 L1417.1 1596.5 L1420.7 1597.9 L1424.2 1599.2 L1427.8 1600.5 L1431.3 1601.7 L1434.9 1602.8 L1438.5 1603.9 L1442.0 1604.9 L1445.6 1605.9 L1449.1 1606.8 L1452.7 1607.6 L1456.2 1608.5 L1459.8 1609.2 L1463.4 1609.9 L1466.9 1610.6 L1470.5 1611.3 L1474.0 1611.9 L1477.6 1612.5 L1481.2 1613.0 L1484.7 1613.5 L1488.3 1614.0 L1491.8 1614.4 L1495.4 1614.8 L1498.9 1615.2 L1502.5 1615.6 L1506.1 1616.0 L1509.6 1616.3 L1513.2 1616.6 L1516.7 1616.9 L1520.3 1617.1 L1523.9 1617.4 L1527.4 1617.6 L1531.0 1617.8 L1534.5 1618.0 L1538.1 1618.2 L1541.6 1618.4 L1545.2 1618.5 L1548.8 1618.7 L1552.3 1618.8 L1555.9 1619.0 L1559.4 1619.1 L1563.0 1619.2" fill="none" stroke="#008000" stroke-width="5.8" stroke-linejoin="round" stroke-linecap="round" /><path d="M168.5 1621.4 L1563.0 1621.4" fill="none" stroke="#0000FF" stroke-width="5" stroke-linejoin="round"  stroke-linecap="butt"/><path d="M1044 1617.6 C1060 1620 1080 1621 1100 1621.4 L1365 1621.6" fill="none" stroke="#fff" stroke-width="3" stroke-dasharray="13 10"/><text x="717.3" y="1584.8" font-family="'Liberation Sans', Arial, sans-serif" font-size="63" fill="#0000FF" stroke-width="0.7" stroke="#0000FF">Pd(0)</text><text x="1104.1" y="1549.8" font-family="'Liberation Sans', Arial, sans-serif" font-size="63" fill="#0000FF" stroke-width="0.7" stroke="#0000FF">Pd(0)</text><path d="M168.8 1432.5 L174.4 1431.8 L180.0 1431.3 L185.7 1430.8 L191.4 1430.4 L197.2 1430.1 L203.0 1429.8 L208.9 1429.6 L214.8 1429.4 L220.7 1429.2 L226.7 1429.1 L232.6 1428.9 L238.6 1428.8 L244.6 1428.6 L250.6 1428.5 L256.6 1428.3 L262.7 1428.1 L268.7 1427.8 L274.7 1427.5 L280.7 1427.1 L286.6 1426.7 L292.6 1426.2 L298.5 1425.6 L304.4 1424.9 L310.2 1424.1 L316.1 1423.2 L321.9 1422.2 L327.6 1421.1 L333.3 1419.8 L338.9 1418.4 L344.5 1416.8 L350.0 1415.1 L355.4 1413.2 L360.8 1411.1 L366.1 1408.9 L371.3 1406.4 L376.4 1403.8 L381.5 1401.1 L386.5 1398.1 L391.5 1395.1 L396.4 1391.8 L401.2 1388.5 L405.9 1385.0 L410.6 1381.5 L415.3 1377.8 L419.9 1374.0 L424.4 1370.1 L428.9 1366.2 L433.3 1362.1 L437.7 1358.0 L441.9 1353.9 L446.1 1349.6 L450.3 1345.3 L454.3 1340.9 L458.2 1336.5 L462.0 1332.0 L465.7 1327.4 L469.3 1322.8 L472.9 1318.2 L476.3 1313.5 L479.7 1308.7 L483.0 1303.9 L486.3 1299.1 L489.5 1294.2 L492.7 1289.3 L495.9 1284.4 L499.0 1279.5 L502.1 1274.5 L505.1 1269.4 L508.1 1264.4 L511.1 1259.3 L514.0 1254.2 L517.0 1249.1 L519.9 1244.0 L522.8 1238.9 L525.6 1233.7 L528.5 1228.5 L531.3 1223.4 L534.2 1218.2 L537.0 1213.0 L539.8 1207.8 L542.6 1202.6 L545.5 1197.4 L548.3 1192.2 L551.1 1187.0 L554.0 1181.8 L556.8 1176.6 L559.7 1171.5 L562.6 1166.3 L565.5 1161.2 L568.4 1156.0 L571.3 1150.9 L574.3 1145.8 L577.3 1140.8 L580.3 1135.7 L583.4 1130.7 L586.5 1125.7 L589.6 1120.8 L592.8 1115.8 L596.0 1110.9 L599.3 1106.1 L602.6 1101.2 L606.0 1096.5 L609.4 1091.7 L612.9 1087.0 L616.4 1082.4 L620.0 1077.8 L623.6 1073.2 L627.4 1068.7 L631.1 1064.2 L635.0 1059.8 L638.9 1055.5 L642.9 1051.2 L647.0 1047.0 L651.2 1042.8 L655.4 1038.7 L659.8 1034.7 L664.2 1030.7 L668.6 1026.8 L673.2 1022.9 L677.7 1019.0 L682.2 1015.2 L686.7 1011.2 L691.2 1007.3 L695.6 1003.3 L699.9 999.2 L704.1 995.0 L708.1 990.7 L712.1 986.3 L715.8 981.7 L719.3 976.9 L722.7 972.0 L726.0 967.1 L729.4 962.2 L732.8 957.3 L736.3 952.7 L740.1 948.2 L744.1 944.0 L748.6 940.2 L753.5 936.8 L758.8 934.0 L764.4 931.8 L770.2 930.3 L776.0 929.7 L781.6 930.1 L786.9 931.6 L791.6 934.3 L795.8 938.4 L799.3 943.6 L802.4 949.4 L805.3 955.2 L808.2 960.7 L811.0 965.9 L813.8 971.0 L816.6 975.9 L819.3 980.8 L822.0 985.8 L824.6 990.8 L827.2 995.9 L829.8 1001.1 L832.4 1006.4 L835.0 1011.7 L837.5 1017.1 L840.0 1022.5 L842.5 1027.9 L845.0 1033.4 L847.5 1038.8 L850.0 1044.3 L852.5 1049.7 L855.4 1054.9 L858.8 1059.7 L863.0 1063.8 L867.9 1067.3 L873.2 1070.0 L878.8 1071.9 L884.6 1073.0 L890.3 1073.0 L895.7 1072.2 L901.0 1070.4 L906.0 1067.8 L910.7 1064.5 L915.2 1060.7 L919.5 1056.3 L923.5 1051.6 L927.2 1046.6 L930.7 1041.4 L933.9 1036.2 L936.9 1030.9 L939.9 1025.6 L942.9 1020.5 L945.9 1015.5 L949.2 1010.7 L952.7 1006.2 L956.5 1002.0 L960.6 998.1 L965.0 994.4 L969.6 991.0 L974.4 987.7 L979.4 984.6 L984.5 981.6 L989.7 978.8 L994.9 976.0 L1000.2 973.2 L1005.5 970.4 L1010.7 967.6 L1015.9 964.7 L1021.0 961.8 L1026.0 958.8 L1030.9 955.7 L1035.7 952.4 L1040.4 949.0 L1045.0 945.5 L1049.4 941.8 L1053.7 937.9 L1057.8 933.8 L1061.8 929.5 L1065.6 925.0 L1069.3 920.4 L1072.9 915.6 L1076.4 910.7 L1079.7 905.7 L1083.0 900.6 L1086.2 895.5 L1089.3 890.4 L1092.3 885.3 L1095.3 880.2 L1098.3 875.2 L1101.2 870.2 L1104.2 865.4 L1107.4 860.6 L1111.1 855.8 L1115.3 851.1 L1120.2 846.7 L1125.5 843.3 L1130.7 842.1 L1135.5 843.7 L1140.0 847.4 L1144.1 851.8 L1147.9 856.5 L1151.4 861.3 L1154.6 866.2 L1157.5 871.3 L1160.2 876.6 L1162.7 881.9 L1165.0 887.3 L1167.2 892.8 L1169.2 898.4 L1171.0 904.0 L1172.8 909.7 L1174.4 915.4 L1176.0 921.2 L1177.6 926.9 L1179.1 932.6 L1180.6 938.4 L1182.0 944.1 L1183.5 949.8 L1184.9 955.5 L1186.3 961.2 L1187.7 967.0 L1189.0 972.7 L1190.4 978.4 L1191.7 984.1 L1193.0 989.8 L1194.3 995.6 L1195.6 1001.3 L1196.9 1007.0 L1198.1 1012.7 L1199.4 1018.5 L1200.6 1024.2 L1201.9 1029.9 L1203.1 1035.7 L1204.3 1041.4 L1205.5 1047.2 L1206.7 1052.9 L1207.9 1058.7 L1209.1 1064.4 L1210.3 1070.2 L1211.5 1075.9 L1212.6 1081.7 L1213.8 1087.5 L1214.9 1093.2 L1216.0 1099.0 L1217.2 1104.8 L1218.3 1110.6 L1219.4 1116.3 L1220.5 1122.1 L1221.6 1127.9 L1222.7 1133.7 L1223.8 1139.5 L1224.9 1145.3 L1225.9 1151.1 L1227.0 1156.9 L1228.1 1162.7 L1229.1 1168.5 L1230.2 1174.3 L1231.3 1180.1 L1232.3 1185.9 L1233.4 1191.7 L1234.4 1197.6 L1235.5 1203.4 L1236.6 1209.2 L1237.6 1215.0 L1238.7 1220.8 L1239.8 1226.6 L1240.9 1232.4 L1242.0 1238.2 L1243.1 1244.0 L1244.2 1249.8 L1245.4 1255.6 L1246.5 1261.4 L1247.7 1267.2 L1248.9 1273.0 L1250.1 1278.8 L1251.3 1284.5 L1252.5 1290.3 L1253.8 1296.1 L1255.1 1301.8 L1256.4 1307.6 L1257.7 1313.3 L1259.1 1319.0 L1260.5 1324.8 L1261.9 1330.5 L1263.3 1336.2 L1264.8 1341.9 L1266.3 1347.5 L1267.8 1353.2 L1269.4 1358.9 L1271.0 1364.5 L1272.6 1370.2 L1274.3 1375.8 L1276.0 1381.4 L1277.8 1387.0 L1279.6 1392.6 L1281.4 1398.2 L1283.3 1403.7 L1285.2 1409.3 L1287.2 1414.8 L1289.2 1420.3 L1291.2 1425.8 L1293.3 1431.3 L1295.5 1436.7 L1297.7 1442.2 L1300.0 1447.6 L1302.3 1453.0 L1304.7 1458.4 L1307.1 1463.8 L1309.6 1469.1 L1312.1 1474.4 L1314.7 1479.7 L1317.3 1485.0 L1320.1 1490.3 L1322.8 1495.5 L1325.7 1500.8 L1328.6 1505.9 L1331.6 1511.0 L1334.8 1516.1 L1338.0 1521.0 L1341.3 1525.9 L1344.8 1530.6 L1348.3 1535.3 L1352.0 1539.8 L1355.9 1544.2 L1359.9 1548.5 L1364.0 1552.6 L1368.4 1556.5 L1372.9 1560.3 L1377.5 1563.8 L1382.4 1567.2 L1387.4 1570.5 L1392.5 1573.5 L1397.7 1576.4 L1403.0 1579.2 L1408.3 1581.8 L1413.7 1584.3 L1419.2 1586.7 L1424.7 1588.9 L1430.2 1591.0 L1435.7 1593.0 L1441.3 1594.9 L1446.9 1596.7 L1452.5 1598.4 L1458.1 1600.0 L1463.8 1601.4 L1469.5 1602.8 L1475.2 1604.0 L1481.0 1605.2 L1486.7 1606.3 L1492.5 1607.3 L1498.3 1608.2 L1504.1 1609.0 L1509.9 1609.7 L1515.8 1610.3 L1521.7 1610.9 L1527.5 1611.4 L1533.4 1611.8 L1539.3 1612.2 L1545.3 1612.4 L1551.2 1612.7 L1557.1 1612.8 L1563.1 1612.9" fill="none" stroke="#FF0000" stroke-width="5.8" stroke-linejoin="round" stroke-linecap="round" /><g fill="#fff" stroke="#000" stroke-width="2.9"><circle cx="165.5" cy="1428.0" r="9.0"/><circle cx="172.5" cy="1450.0" r="9.0"/><circle cx="179.5" cy="1446.0" r="9.0"/><circle cx="186.5" cy="1426.0" r="9.0"/><circle cx="193.5" cy="1421.0" r="9.0"/><circle cx="200.5" cy="1437.0" r="9.0"/><circle cx="207.5" cy="1432.0" r="9.0"/><circle cx="214.5" cy="1444.0" r="9.0"/><circle cx="221.5" cy="1431.0" r="9.0"/><circle cx="228.5" cy="1437.0" r="9.0"/><circle cx="235.6" cy="1436.0" r="9.0"/><circle cx="242.6" cy="1428.0" r="9.0"/><circle cx="249.6" cy="1419.0" r="9.0"/><circle cx="256.6" cy="1413.0" r="9.0"/><circle cx="263.6" cy="1428.0" r="9.0"/><circle cx="270.6" cy="1422.0" r="9.0"/><circle cx="277.6" cy="1418.0" r="9.0"/><circle cx="284.6" cy="1405.0" r="9.0"/><circle cx="291.6" cy="1400.0" r="9.0"/><circle cx="298.6" cy="1400.0" r="9.0"/><circle cx="305.6" cy="1410.0" r="9.0"/><circle cx="312.6" cy="1410.0" r="9.0"/><circle cx="319.6" cy="1408.0" r="9.0"/><circle cx="326.6" cy="1406.0" r="9.0"/><circle cx="333.6" cy="1409.0" r="9.0"/><circle cx="340.6" cy="1403.0" r="9.0"/><circle cx="347.6" cy="1408.0" r="9.0"/><circle cx="354.6" cy="1411.0" r="9.0"/><circle cx="361.6" cy="1416.0" r="9.0"/><circle cx="368.6" cy="1396.0" r="9.0"/><circle cx="375.6" cy="1401.0" r="9.0"/><circle cx="382.7" cy="1385.0" r="9.0"/><circle cx="389.7" cy="1375.0" r="9.0"/><circle cx="396.7" cy="1395.0" r="9.0"/><circle cx="403.7" cy="1390.0" r="9.0"/><circle cx="410.7" cy="1382.0" r="9.0"/><circle cx="417.7" cy="1400.0" r="9.0"/><circle cx="424.7" cy="1383.0" r="9.0"/><circle cx="431.7" cy="1374.0" r="9.0"/><circle cx="438.7" cy="1371.0" r="9.0"/><circle cx="445.7" cy="1362.0" r="9.0"/><circle cx="452.7" cy="1355.0" r="9.0"/><circle cx="459.7" cy="1348.0" r="9.0"/><circle cx="466.7" cy="1353.0" r="9.0"/><circle cx="473.7" cy="1337.0" r="9.0"/><circle cx="480.7" cy="1348.0" r="9.0"/><circle cx="487.7" cy="1323.0" r="9.0"/><circle cx="494.7" cy="1292.0" r="9.0"/><circle cx="501.7" cy="1268.0" r="9.0"/><circle cx="508.7" cy="1282.0" r="9.0"/><circle cx="515.8" cy="1278.0" r="9.0"/><circle cx="522.8" cy="1248.0" r="9.0"/><circle cx="529.8" cy="1245.0" r="9.0"/><circle cx="536.8" cy="1215.0" r="9.0"/><circle cx="543.8" cy="1216.0" r="9.0"/><circle cx="550.8" cy="1184.0" r="9.0"/><circle cx="557.8" cy="1175.0" r="9.0"/><circle cx="564.8" cy="1162.0" r="9.0"/><circle cx="571.8" cy="1155.0" r="9.0"/><circle cx="578.8" cy="1127.0" r="9.0"/><circle cx="585.8" cy="1119.0" r="9.0"/><circle cx="592.8" cy="1106.0" r="9.0"/><circle cx="599.8" cy="1098.0" r="9.0"/><circle cx="606.8" cy="1089.0" r="9.0"/><circle cx="613.8" cy="1073.0" r="9.0"/><circle cx="620.8" cy="1077.0" r="9.0"/><circle cx="627.8" cy="1064.0" r="9.0"/><circle cx="634.8" cy="1056.0" r="9.0"/><circle cx="641.8" cy="1042.0" r="9.0"/><circle cx="648.8" cy="1040.0" r="9.0"/><circle cx="655.8" cy="1047.0" r="9.0"/><circle cx="662.9" cy="1033.0" r="9.0"/><circle cx="669.9" cy="1019.0" r="9.0"/><circle cx="676.9" cy="1027.0" r="9.0"/><circle cx="683.9" cy="1023.0" r="9.0"/><circle cx="690.9" cy="1006.0" r="9.0"/><circle cx="697.9" cy="1012.0" r="9.0"/><circle cx="704.9" cy="983.0" r="9.0"/><circle cx="711.9" cy="966.0" r="9.0"/><circle cx="718.9" cy="966.0" r="9.0"/><circle cx="725.9" cy="970.0" r="9.0"/><circle cx="732.9" cy="966.0" r="9.0"/><circle cx="739.9" cy="942.0" r="9.0"/><circle cx="746.9" cy="941.0" r="9.0"/><circle cx="753.9" cy="922.0" r="9.0"/><circle cx="760.9" cy="932.0" r="9.0"/><circle cx="767.9" cy="938.0" r="9.0"/><circle cx="774.9" cy="926.0" r="9.0"/><circle cx="781.9" cy="938.0" r="9.0"/><circle cx="788.9" cy="926.0" r="9.0"/><circle cx="796.0" cy="942.0" r="9.0"/><circle cx="803.0" cy="964.0" r="9.0"/><circle cx="810.0" cy="975.0" r="9.0"/><circle cx="817.0" cy="975.0" r="9.0"/><circle cx="824.0" cy="998.0" r="9.0"/><circle cx="831.0" cy="1008.0" r="9.0"/><circle cx="838.0" cy="998.0" r="9.0"/><circle cx="845.0" cy="1006.0" r="9.0"/><circle cx="852.0" cy="1031.0" r="9.0"/><circle cx="859.0" cy="1048.0" r="9.0"/><circle cx="866.0" cy="1066.0" r="9.0"/><circle cx="873.0" cy="1076.0" r="9.0"/><circle cx="880.0" cy="1070.0" r="9.0"/><circle cx="887.0" cy="1085.0" r="9.0"/><circle cx="894.0" cy="1070.0" r="9.0"/><circle cx="901.0" cy="1068.0" r="9.0"/><circle cx="908.0" cy="1072.0" r="9.0"/><circle cx="915.0" cy="1072.0" r="9.0"/><circle cx="922.0" cy="1063.0" r="9.0"/><circle cx="929.0" cy="1029.0" r="9.0"/><circle cx="936.0" cy="1034.0" r="9.0"/><circle cx="943.1" cy="1014.0" r="9.0"/><circle cx="950.1" cy="996.0" r="9.0"/><circle cx="957.1" cy="996.0" r="9.0"/><circle cx="964.1" cy="978.0" r="9.0"/><circle cx="971.1" cy="982.0" r="9.0"/><circle cx="978.1" cy="972.0" r="9.0"/><circle cx="985.1" cy="973.0" r="9.0"/><circle cx="992.1" cy="972.0" r="9.0"/><circle cx="999.1" cy="976.0" r="9.0"/><circle cx="1006.1" cy="968.0" r="9.0"/><circle cx="1013.1" cy="947.0" r="9.0"/><circle cx="1020.1" cy="972.0" r="9.0"/><circle cx="1027.1" cy="962.0" r="9.0"/><circle cx="1034.1" cy="956.0" r="9.0"/><circle cx="1041.1" cy="955.0" r="9.0"/><circle cx="1048.1" cy="944.0" r="9.0"/><circle cx="1055.1" cy="915.0" r="9.0"/><circle cx="1062.1" cy="911.0" r="9.0"/><circle cx="1069.1" cy="928.0" r="9.0"/><circle cx="1076.2" cy="909.0" r="9.0"/><circle cx="1083.2" cy="889.0" r="9.0"/><circle cx="1090.2" cy="879.0" r="9.0"/><circle cx="1097.2" cy="880.0" r="9.0"/><circle cx="1104.2" cy="871.0" r="9.0"/><circle cx="1111.2" cy="873.0" r="9.0"/><circle cx="1118.2" cy="863.0" r="9.0"/><circle cx="1125.2" cy="844.0" r="9.0"/><circle cx="1132.2" cy="848.0" r="9.0"/><circle cx="1139.2" cy="839.0" r="9.0"/><circle cx="1146.2" cy="833.0" r="9.0"/><circle cx="1153.2" cy="843.0" r="9.0"/><circle cx="1160.2" cy="868.0" r="9.0"/><circle cx="1167.2" cy="879.0" r="9.0"/><circle cx="1174.2" cy="911.0" r="9.0"/><circle cx="1181.2" cy="969.0" r="9.0"/><circle cx="1188.2" cy="991.0" r="9.0"/><circle cx="1195.2" cy="1010.0" r="9.0"/><circle cx="1202.2" cy="1049.0" r="9.0"/><circle cx="1209.2" cy="1063.0" r="9.0"/><circle cx="1216.2" cy="1087.0" r="9.0"/><circle cx="1223.3" cy="1107.0" r="9.0"/><circle cx="1230.3" cy="1167.0" r="9.0"/><circle cx="1237.3" cy="1221.0" r="9.0"/><circle cx="1244.3" cy="1238.0" r="9.0"/><circle cx="1251.3" cy="1274.0" r="9.0"/><circle cx="1258.3" cy="1312.0" r="9.0"/><circle cx="1265.3" cy="1318.0" r="9.0"/><circle cx="1272.3" cy="1359.0" r="9.0"/><circle cx="1279.3" cy="1387.0" r="9.0"/><circle cx="1286.3" cy="1410.0" r="9.0"/><circle cx="1293.3" cy="1440.0" r="9.0"/><circle cx="1300.3" cy="1451.0" r="9.0"/><circle cx="1307.3" cy="1462.0" r="9.0"/><circle cx="1314.3" cy="1499.0" r="9.0"/><circle cx="1321.3" cy="1514.0" r="9.0"/><circle cx="1328.3" cy="1515.0" r="9.0"/><circle cx="1335.3" cy="1528.0" r="9.0"/><circle cx="1342.3" cy="1536.0" r="9.0"/><circle cx="1349.3" cy="1548.0" r="9.0"/><circle cx="1356.3" cy="1567.0" r="9.0"/><circle cx="1363.4" cy="1571.0" r="9.0"/><circle cx="1370.4" cy="1582.0" r="9.0"/><circle cx="1377.4" cy="1580.0" r="9.0"/><circle cx="1384.4" cy="1579.0" r="9.0"/><circle cx="1391.4" cy="1579.0" r="9.0"/><circle cx="1398.4" cy="1586.0" r="9.0"/><circle cx="1405.4" cy="1592.0" r="9.0"/><circle cx="1412.4" cy="1600.0" r="9.0"/><circle cx="1419.4" cy="1596.0" r="9.0"/><circle cx="1426.4" cy="1583.0" r="9.0"/><circle cx="1433.4" cy="1588.0" r="9.0"/><circle cx="1440.4" cy="1589.0" r="9.0"/><circle cx="1447.4" cy="1592.0" r="9.0"/><circle cx="1454.4" cy="1610.0" r="9.0"/><circle cx="1461.4" cy="1607.0" r="9.0"/><circle cx="1468.4" cy="1621.0" r="9.0"/><circle cx="1475.4" cy="1606.0" r="9.0"/><circle cx="1482.4" cy="1613.0" r="9.0"/><circle cx="1489.4" cy="1621.0" r="9.0"/><circle cx="1496.5" cy="1595.0" r="9.0"/><circle cx="1503.5" cy="1612.0" r="9.0"/><circle cx="1510.5" cy="1603.0" r="9.0"/><circle cx="1517.5" cy="1622.0" r="9.0"/><circle cx="1524.5" cy="1615.0" r="9.0"/><circle cx="1531.5" cy="1609.0" r="9.0"/><circle cx="1538.5" cy="1603.0" r="9.0"/><circle cx="1545.5" cy="1615.0" r="9.0"/><circle cx="1552.5" cy="1616.0" r="9.0"/><circle cx="1559.5" cy="1610.0" r="9.0"/><circle cx="1566.5" cy="1615.0" r="9.0"/></g><path d="M168.1 1432.8 L171.7 1432.5 L175.3 1432.3 L178.8 1432.1 L182.4 1431.8 L186.0 1431.6 L189.5 1431.4 L193.1 1431.3 L196.6 1431.1 L200.2 1430.9 L203.8 1430.8 L207.3 1430.6 L210.9 1430.5 L214.4 1430.4 L218.0 1430.3 L221.6 1430.2 L225.1 1430.1 L228.7 1430.0 L232.2 1429.9 L235.8 1429.8 L239.3 1429.8 L242.9 1429.8 L246.4 1429.7 L250.0 1429.7 L253.5 1429.7 L257.1 1429.7 L260.6 1429.7 L264.2 1429.7 L267.7 1429.7 L271.3 1429.8 L274.8 1429.8 L278.4 1429.9 L281.9 1430.0 L285.4 1430.0 L289.0 1430.1 L292.5 1430.2 L296.1 1430.3 L299.6 1430.4 L303.1 1430.6 L306.7 1430.7 L310.2 1430.8 L313.7 1431.0 L317.3 1431.1 L320.8 1431.3 L324.3 1431.5 L327.9 1431.7 L331.4 1431.9 L334.9 1432.1 L338.5 1432.3 L342.0 1432.5 L345.5 1432.8 L349.0 1433.0 L352.6 1433.2 L356.1 1433.5 L359.6 1433.8 L363.1 1434.0 L366.7 1434.3 L370.2 1434.6 L373.7 1434.9 L377.2 1435.2 L380.7 1435.6 L384.3 1435.9 L387.8 1436.2 L391.3 1436.6 L394.8 1436.9 L398.3 1437.3 L401.8 1437.6 L405.3 1438.0 L408.9 1438.4 L412.4 1438.8 L415.9 1439.2 L419.4 1439.6 L422.9 1440.0 L426.4 1440.4 L429.9 1440.9 L433.4 1441.3 L436.9 1441.7 L440.4 1442.2 L443.9 1442.7 L447.4 1443.1 L450.9 1443.6 L454.4 1444.1 L457.9 1444.6 L461.4 1445.1 L464.9 1445.6 L468.4 1446.1 L471.9 1446.6 L475.3 1447.2 L478.8 1447.7 L482.3 1448.2 L485.8 1448.8 L489.3 1449.3 L492.8 1449.9 L496.3 1450.5 L499.7 1451.1 L503.2 1451.6 L506.7 1452.2 L510.2 1452.8 L513.6 1453.4 L517.1 1454.0 L520.6 1454.7 L524.1 1455.3 L527.5 1455.9 L531.0 1456.6 L534.5 1457.2 L538.0 1457.9 L541.4 1458.5 L544.9 1459.2 L548.4 1459.8 L551.8 1460.5 L555.3 1461.2 L558.8 1461.9 L562.2 1462.5 L565.7 1463.2 L569.1 1463.9 L572.6 1464.6 L576.1 1465.3 L579.5 1466.1 L583.0 1466.8 L586.4 1467.5 L589.9 1468.2 L593.3 1469.0 L596.8 1469.7 L600.3 1470.4 L603.7 1471.2 L607.2 1471.9 L610.6 1472.7 L614.1 1473.4 L617.5 1474.2 L621.0 1474.9 L624.4 1475.7 L627.9 1476.5 L631.3 1477.2 L634.8 1478.0 L638.2 1478.8 L641.7 1479.6 L645.1 1480.4 L648.6 1481.2 L652.0 1481.9 L655.5 1482.7 L658.9 1483.5 L662.3 1484.3 L665.8 1485.1 L669.2 1485.9 L672.7 1486.7 L676.1 1487.5 L679.6 1488.3 L683.0 1489.1 L686.5 1490.0 L689.9 1490.8 L693.3 1491.6 L696.8 1492.4 L700.2 1493.2 L703.7 1494.0 L707.1 1494.8 L710.6 1495.7 L714.0 1496.5 L717.4 1497.3 L720.9 1498.1 L724.3 1499.0 L727.8 1499.8 L731.2 1500.6 L734.7 1501.4 L738.1 1502.2 L741.5 1503.1 L745.0 1503.9 L748.4 1504.7 L751.9 1505.5 L755.3 1506.4 L758.8 1507.2 L762.2 1508.0 L765.6 1508.8 L769.1 1509.7 L772.5 1510.5 L776.0 1511.3 L779.4 1512.1 L782.9 1512.9 L786.3 1513.8 L789.8 1514.6 L793.2 1515.4 L796.6 1516.2 L800.1 1517.0 L803.5 1517.8 L807.0 1518.6 L810.4 1519.4 L813.9 1520.2 L817.3 1521.0 L820.8 1521.8 L824.2 1522.6 L827.7 1523.4 L831.1 1524.2 L834.6 1525.0 L838.0 1525.8 L841.5 1526.6 L844.9 1527.4 L848.4 1528.2 L851.8 1528.9 L855.3 1529.7 L858.7 1530.5 L862.2 1531.3 L865.6 1532.0 L869.1 1532.8 L872.6 1533.6 L876.0 1534.3 L879.5 1535.1 L882.9 1535.8 L886.4 1536.6 L889.8 1537.4 L893.3 1538.1 L896.8 1538.9 L900.2 1539.6 L903.7 1540.3 L907.1 1541.1 L910.6 1541.8 L914.1 1542.6 L917.5 1543.3 L921.0 1544.0 L924.5 1544.7 L927.9 1545.5 L931.4 1546.2 L934.8 1546.9 L938.3 1547.6 L941.8 1548.3 L945.2 1549.1 L948.7 1549.8 L952.2 1550.5 L955.6 1551.2 L959.1 1551.9 L962.6 1552.6 L966.0 1553.3 L969.5 1554.0 L973.0 1554.6 L976.4 1555.3 L979.9 1556.0 L983.4 1556.7 L986.9 1557.4 L990.3 1558.0 L993.8 1558.7 L997.3 1559.4 L1000.8 1560.0 L1004.2 1560.7 L1007.7 1561.3 L1011.2 1562.0 L1014.7 1562.7 L1018.1 1563.3 L1021.6 1563.9 L1025.1 1564.6 L1028.6 1565.2 L1032.0 1565.9 L1035.5 1566.5 L1039.0 1567.1 L1042.5 1567.7 L1046.0 1568.4 L1049.4 1569.0 L1052.9 1569.6 L1056.4 1570.2 L1059.9 1570.8 L1063.4 1571.4 L1066.8 1572.0 L1070.3 1572.6 L1073.8 1573.2 L1077.3 1573.8 L1080.8 1574.4 L1084.3 1575.0 L1087.7 1575.5 L1091.2 1576.1 L1094.7 1576.7 L1098.2 1577.3 L1101.7 1577.8 L1105.2 1578.4 L1108.7 1578.9 L1112.2 1579.5 L1115.7 1580.1 L1119.1 1580.6 L1122.6 1581.1 L1126.1 1581.7 L1129.6 1582.2 L1133.1 1582.7 L1136.6 1583.3 L1140.1 1583.8 L1143.6 1584.3 L1147.1 1584.8 L1150.6 1585.3 L1154.1 1585.8 L1157.6 1586.4 L1161.1 1586.9 L1164.6 1587.3 L1168.1 1587.8 L1171.6 1588.3 L1175.1 1588.8 L1178.6 1589.3 L1182.1 1589.8 L1185.6 1590.2 L1189.1 1590.7 L1192.6 1591.2 L1196.1 1591.6 L1199.6 1592.1 L1203.1 1592.5 L1206.6 1593.0 L1210.1 1593.4 L1213.6 1593.9 L1217.1 1594.3 L1220.6 1594.7 L1224.1 1595.1 L1227.6 1595.6 L1231.1 1596.0 L1234.6 1596.4 L1238.1 1596.8 L1241.6 1597.2 L1245.2 1597.6 L1248.7 1598.0 L1252.2 1598.4 L1255.7 1598.8 L1259.2 1599.1 L1262.7 1599.5 L1266.2 1599.9 L1269.7 1600.3 L1273.3 1600.6 L1276.8 1601.0 L1280.3 1601.3 L1283.8 1601.7 L1287.3 1602.0 L1290.8 1602.4 L1294.4 1602.7 L1297.9 1603.0 L1301.4 1603.3 L1304.9 1603.7 L1308.4 1604.0 L1311.9 1604.3 L1315.5 1604.6 L1319.0 1604.9 L1322.5 1605.2 L1326.0 1605.5 L1329.6 1605.8 L1333.1 1606.0 L1336.6 1606.3 L1340.1 1606.6 L1343.7 1606.9 L1347.2 1607.1 L1350.7 1607.4 L1354.2 1607.6 L1357.8 1607.9 L1361.3 1608.1 L1364.8 1608.3 L1368.3 1608.6 L1371.9 1608.8 L1375.4 1609.0 L1378.9 1609.2 L1382.5 1609.4 L1386.0 1609.6 L1389.5 1609.8 L1393.1 1610.0 L1396.6 1610.2 L1400.1 1610.4 L1403.7 1610.6 L1407.2 1610.8 L1410.7 1610.9 L1414.3 1611.1 L1417.8 1611.3 L1421.4 1611.4 L1424.9 1611.5 L1428.4 1611.7 L1432.0 1611.8 L1435.5 1612.0 L1439.1 1612.1 L1442.6 1612.2 L1446.1 1612.3 L1449.7 1612.4 L1453.2 1612.5 L1456.8 1612.6 L1460.3 1612.7 L1463.9 1612.8 L1467.4 1612.9 L1470.9 1612.9 L1474.5 1613.0 L1478.0 1613.1 L1481.6 1613.1 L1485.1 1613.2 L1488.7 1613.2 L1492.2 1613.3 L1495.8 1613.3 L1499.3 1613.3 L1502.9 1613.3 L1506.4 1613.4 L1510.0 1613.4 L1513.5 1613.4 L1517.1 1613.4 L1520.6 1613.4 L1524.2 1613.4 L1527.8 1613.3 L1531.3 1613.3 L1534.9 1613.3 L1538.4 1613.2 L1542.0 1613.2 L1545.5 1613.1 L1549.1 1613.1 L1552.7 1613.0 L1556.2 1613.0 L1559.8 1612.9 L1563.3 1612.8" fill="none" stroke="#000" stroke-width="5.5" stroke-linejoin="round"  stroke-dasharray="12.4 1.7" stroke-linecap="butt"/><text x="1066.4" y="1297.6" font-family="'Liberation Sans', Arial, sans-serif" font-size="76" fill="#0000FF" letter-spacing="0.4" stroke-width="0.7" stroke="#0000FF">Pd3d<tspan font-size="46" dx="2" dy="30" stroke-width="0.3">5/2</tspan></text></g><g stroke="#000" stroke-width="7" fill="none"><path d="M165.5 1678 L165.5 31.5 L1566.5 31.5 L1566.5 1678 M165.5 1644.5 L1566.5 1644.5" stroke-linejoin="miter" stroke-linecap="butt"/><line x1="235.55" y1="31.5" x2="235.55" y2="46.3" stroke-linecap="round"/><line x1="235.55" y1="1644.5" x2="235.55" y2="1660.3" stroke-linecap="round"/><line x1="305.60" y1="31.5" x2="305.60" y2="62.3" stroke-linecap="round"/><line x1="305.60" y1="1644.5" x2="305.60" y2="1675.2" stroke-linecap="round"/><line x1="375.65" y1="31.5" x2="375.65" y2="46.3" stroke-linecap="round"/><line x1="375.65" y1="1644.5" x2="375.65" y2="1660.3" stroke-linecap="round"/><line x1="445.70" y1="31.5" x2="445.70" y2="62.3" stroke-linecap="round"/><line x1="445.70" y1="1644.5" x2="445.70" y2="1675.2" stroke-linecap="round"/><line x1="515.75" y1="31.5" x2="515.75" y2="46.3" stroke-linecap="round"/><line x1="515.75" y1="1644.5" x2="515.75" y2="1660.3" stroke-linecap="round"/><line x1="585.80" y1="31.5" x2="585.80" y2="62.3" stroke-linecap="round"/><line x1="585.80" y1="1644.5" x2="585.80" y2="1675.2" stroke-linecap="round"/><line x1="655.85" y1="31.5" x2="655.85" y2="46.3" stroke-linecap="round"/><line x1="655.85" y1="1644.5" x2="655.85" y2="1660.3" stroke-linecap="round"/><line x1="725.90" y1="31.5" x2="725.90" y2="62.3" stroke-linecap="round"/><line x1="725.90" y1="1644.5" x2="725.90" y2="1675.2" stroke-linecap="round"/><line x1="795.95" y1="31.5" x2="795.95" y2="46.3" stroke-linecap="round"/><line x1="795.95" y1="1644.5" x2="795.95" y2="1660.3" stroke-linecap="round"/><line x1="866.00" y1="31.5" x2="866.00" y2="62.3" stroke-linecap="round"/><line x1="866.00" y1="1644.5" x2="866.00" y2="1675.2" stroke-linecap="round"/><line x1="936.05" y1="31.5" x2="936.05" y2="46.3" stroke-linecap="round"/><line x1="936.05" y1="1644.5" x2="936.05" y2="1660.3" stroke-linecap="round"/><line x1="1006.10" y1="31.5" x2="1006.10" y2="62.3" stroke-linecap="round"/><line x1="1006.10" y1="1644.5" x2="1006.10" y2="1675.2" stroke-linecap="round"/><line x1="1076.15" y1="31.5" x2="1076.15" y2="46.3" stroke-linecap="round"/><line x1="1076.15" y1="1644.5" x2="1076.15" y2="1660.3" stroke-linecap="round"/><line x1="1146.20" y1="31.5" x2="1146.20" y2="62.3" stroke-linecap="round"/><line x1="1146.20" y1="1644.5" x2="1146.20" y2="1675.2" stroke-linecap="round"/><line x1="1216.25" y1="31.5" x2="1216.25" y2="46.3" stroke-linecap="round"/><line x1="1216.25" y1="1644.5" x2="1216.25" y2="1660.3" stroke-linecap="round"/><line x1="1286.30" y1="31.5" x2="1286.30" y2="62.3" stroke-linecap="round"/><line x1="1286.30" y1="1644.5" x2="1286.30" y2="1675.2" stroke-linecap="round"/><line x1="1356.35" y1="31.5" x2="1356.35" y2="46.3" stroke-linecap="round"/><line x1="1356.35" y1="1644.5" x2="1356.35" y2="1660.3" stroke-linecap="round"/><line x1="1426.40" y1="31.5" x2="1426.40" y2="62.3" stroke-linecap="round"/><line x1="1426.40" y1="1644.5" x2="1426.40" y2="1675.2" stroke-linecap="round"/><line x1="1496.45" y1="31.5" x2="1496.45" y2="46.3" stroke-linecap="round"/><line x1="1496.45" y1="1644.5" x2="1496.45" y2="1660.3" stroke-linecap="round"/></g><text x="165.5" y="1746" font-family="'Liberation Sans', Arial, sans-serif" font-size="63" fill="#000" text-anchor="middle" stroke="#000" stroke-width="0.7">350</text><text x="305.6" y="1746" font-family="'Liberation Sans', Arial, sans-serif" font-size="63" fill="#000" text-anchor="middle" stroke="#000" stroke-width="0.7">348</text><text x="445.7" y="1746" font-family="'Liberation Sans', Arial, sans-serif" font-size="63" fill="#000" text-anchor="middle" stroke="#000" stroke-width="0.7">346</text><text x="585.8" y="1746" font-family="'Liberation Sans', Arial, sans-serif" font-size="63" fill="#000" text-anchor="middle" stroke="#000" stroke-width="0.7">344</text><text x="725.9" y="1746" font-family="'Liberation Sans', Arial, sans-serif" font-size="63" fill="#000" text-anchor="middle" stroke="#000" stroke-width="0.7">342</text><text x="866.0" y="1746" font-family="'Liberation Sans', Arial, sans-serif" font-size="63" fill="#000" text-anchor="middle" stroke="#000" stroke-width="0.7">340</text><text x="1006.1" y="1746" font-family="'Liberation Sans', Arial, sans-serif" font-size="63" fill="#000" text-anchor="middle" stroke="#000" stroke-width="0.7">338</text><text x="1146.2" y="1746" font-family="'Liberation Sans', Arial, sans-serif" font-size="63" fill="#000" text-anchor="middle" stroke="#000" stroke-width="0.7">336</text><text x="1286.3" y="1746" font-family="'Liberation Sans', Arial, sans-serif" font-size="63" fill="#000" text-anchor="middle" stroke="#000" stroke-width="0.7">334</text><text x="1426.4" y="1746" font-family="'Liberation Sans', Arial, sans-serif" font-size="63" fill="#000" text-anchor="middle" stroke="#000" stroke-width="0.7">332</text><text x="1566.5" y="1746" font-family="'Liberation Sans', Arial, sans-serif" font-size="63" fill="#000" text-anchor="middle" stroke="#000" stroke-width="0.7">330</text><text x="866.5" y="1866.5" font-family="'Liberation Sans', Arial, sans-serif" font-size="76" fill="#000" text-anchor="middle" letter-spacing="0.5" stroke="#000" stroke-width="0.7">Biending Energy (eV)</text><text x="0" y="0" font-family="'Liberation Sans', Arial, sans-serif" font-size="76" fill="#000" text-anchor="middle" letter-spacing="0.3" stroke="#000" stroke-width="0.7" transform="translate(85 878) rotate(-90)">Intensity (a.u.)</text><path d="M669 29.25 L671 1660 M1040 29.25 L1039 1660" stroke="#008000" stroke-width="4" stroke-dasharray="2.5 12.1" stroke-linecap="round" fill="none"/></svg></body></html>
